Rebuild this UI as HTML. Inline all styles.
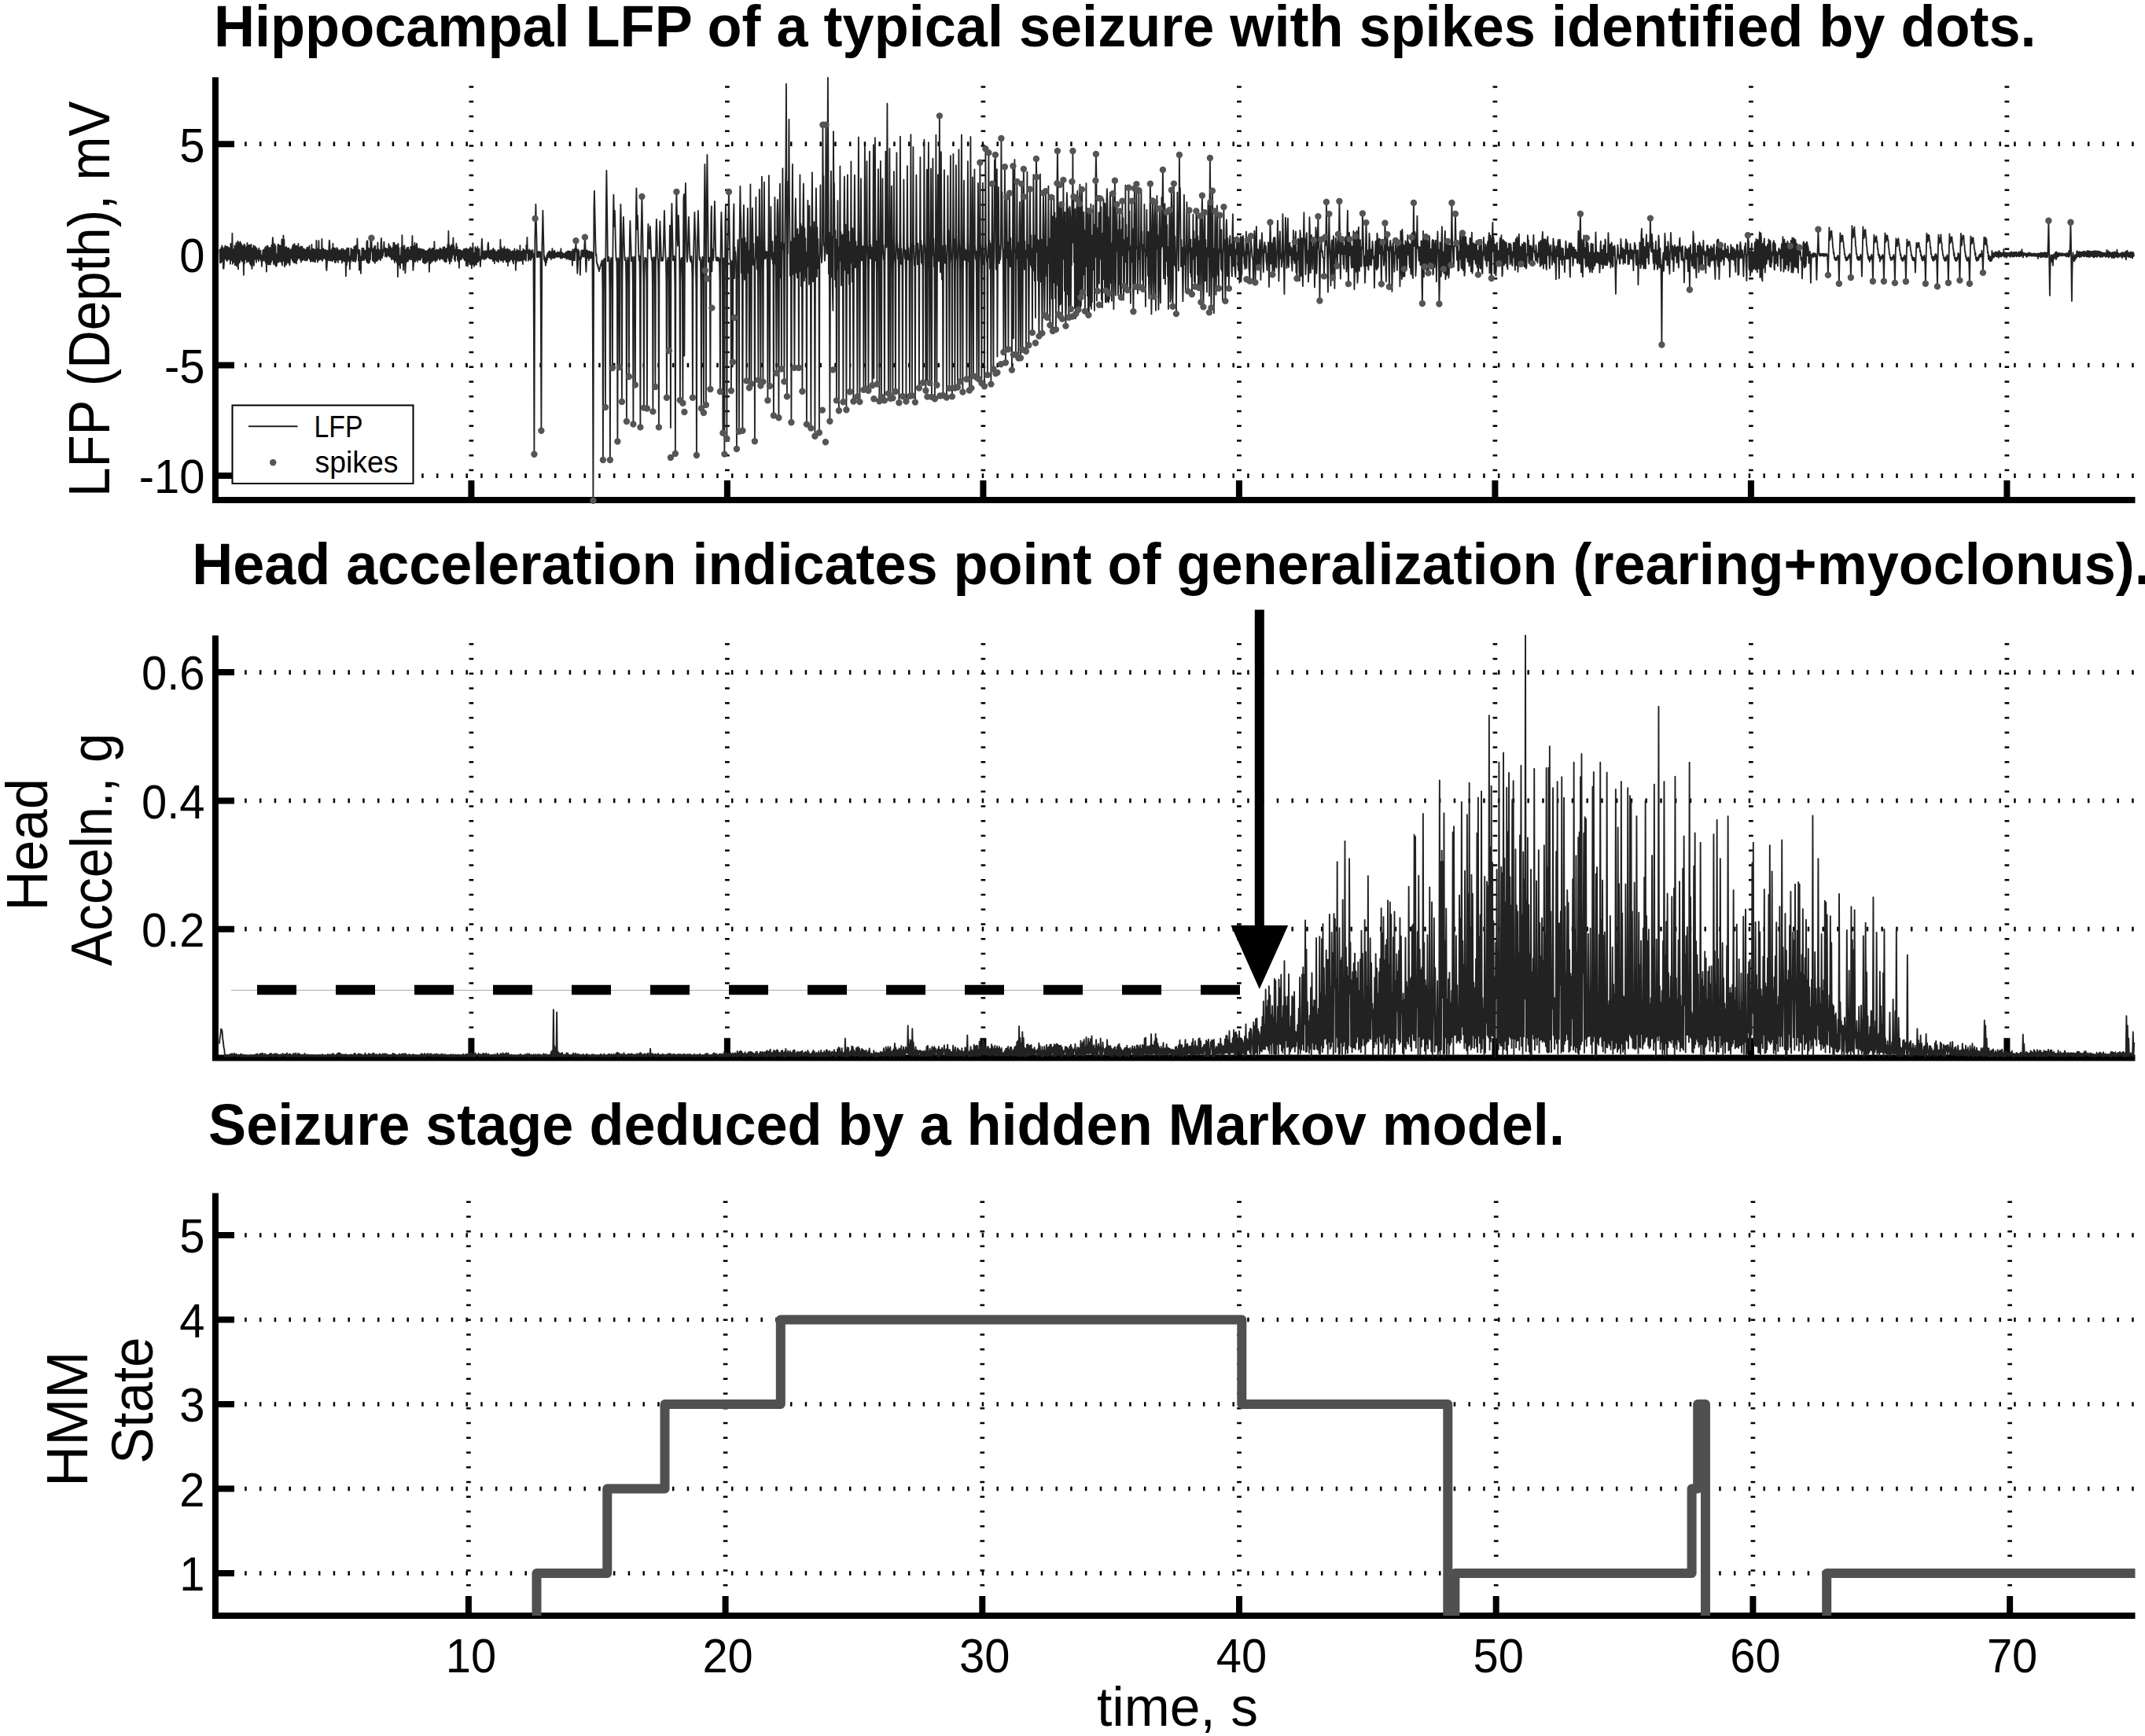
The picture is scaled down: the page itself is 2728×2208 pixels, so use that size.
<!DOCTYPE html>
<html><head><meta charset="utf-8"><title>Seizure figure</title>
<style>
html,body{margin:0;padding:0;background:#fff;}
body{width:2728px;height:2208px;overflow:hidden;font-family:"Liberation Sans",sans-serif;}
svg{display:block}
</style></head><body>
<svg width="2728" height="2208" viewBox="0 0 2728 2208">
<rect width="2728" height="2208" fill="#fff"/>
<g id="grids">
<path d="M311.2 183.2H2715.5" stroke="#000" stroke-width="5.7" stroke-dasharray="2.5 16.25" fill="none"/>
<path d="M311.2 464.5H2715.5" stroke="#000" stroke-width="5.7" stroke-dasharray="2.5 16.25" fill="none"/>
<path d="M311.2 605.1H2715.5" stroke="#000" stroke-width="5.7" stroke-dasharray="2.5 16.25" fill="none"/>
<path d="M599.4 109.2V611.9" stroke="#000" stroke-width="5.7" stroke-dasharray="2.5 16.25" fill="none"/>
<path d="M924.9 109.2V611.9" stroke="#000" stroke-width="5.7" stroke-dasharray="2.5 16.25" fill="none"/>
<path d="M1250.4 109.2V611.9" stroke="#000" stroke-width="5.7" stroke-dasharray="2.5 16.25" fill="none"/>
<path d="M1575.9 109.2V611.9" stroke="#000" stroke-width="5.7" stroke-dasharray="2.5 16.25" fill="none"/>
<path d="M1901.4 109.2V611.9" stroke="#000" stroke-width="5.7" stroke-dasharray="2.5 16.25" fill="none"/>
<path d="M2226.9 109.2V611.9" stroke="#000" stroke-width="5.7" stroke-dasharray="2.5 16.25" fill="none"/>
<path d="M2552.4 109.2V611.9" stroke="#000" stroke-width="5.7" stroke-dasharray="2.5 16.25" fill="none"/>
<path d="M311.2 855.1H2715.5" stroke="#000" stroke-width="5.7" stroke-dasharray="2.5 16.25" fill="none"/>
<path d="M311.2 1018.4H2715.5" stroke="#000" stroke-width="5.7" stroke-dasharray="2.5 16.25" fill="none"/>
<path d="M311.2 1181.7H2715.5" stroke="#000" stroke-width="5.7" stroke-dasharray="2.5 16.25" fill="none"/>
<path d="M599.4 818V1321.4" stroke="#000" stroke-width="5.7" stroke-dasharray="2.5 16.25" fill="none"/>
<path d="M924.9 818V1321.4" stroke="#000" stroke-width="5.7" stroke-dasharray="2.5 16.25" fill="none"/>
<path d="M1250.4 818V1321.4" stroke="#000" stroke-width="5.7" stroke-dasharray="2.5 16.25" fill="none"/>
<path d="M1575.9 818V1321.4" stroke="#000" stroke-width="5.7" stroke-dasharray="2.5 16.25" fill="none"/>
<path d="M1901.4 818V1321.4" stroke="#000" stroke-width="5.7" stroke-dasharray="2.5 16.25" fill="none"/>
<path d="M2226.9 818V1321.4" stroke="#000" stroke-width="5.7" stroke-dasharray="2.5 16.25" fill="none"/>
<path d="M2552.4 818V1321.4" stroke="#000" stroke-width="5.7" stroke-dasharray="2.5 16.25" fill="none"/>
<path d="M311.2 1571H2715.5" stroke="#000" stroke-width="5.7" stroke-dasharray="2.5 16.25" fill="none"/>
<path d="M311.2 1678.5H2715.5" stroke="#000" stroke-width="5.7" stroke-dasharray="2.5 16.25" fill="none"/>
<path d="M311.2 1786H2715.5" stroke="#000" stroke-width="5.7" stroke-dasharray="2.5 16.25" fill="none"/>
<path d="M311.2 1893.5H2715.5" stroke="#000" stroke-width="5.7" stroke-dasharray="2.5 16.25" fill="none"/>
<path d="M311.2 2001H2715.5" stroke="#000" stroke-width="5.7" stroke-dasharray="2.5 16.25" fill="none"/>
<path d="M595.9 1527.5V2031" stroke="#000" stroke-width="5.7" stroke-dasharray="2.5 16.25" fill="none"/>
<path d="M922.6 1527.5V2031" stroke="#000" stroke-width="5.7" stroke-dasharray="2.5 16.25" fill="none"/>
<path d="M1249.3 1527.5V2031" stroke="#000" stroke-width="5.7" stroke-dasharray="2.5 16.25" fill="none"/>
<path d="M1576 1527.5V2031" stroke="#000" stroke-width="5.7" stroke-dasharray="2.5 16.25" fill="none"/>
<path d="M1902.7 1527.5V2031" stroke="#000" stroke-width="5.7" stroke-dasharray="2.5 16.25" fill="none"/>
<path d="M2229.4 1527.5V2031" stroke="#000" stroke-width="5.7" stroke-dasharray="2.5 16.25" fill="none"/>
<path d="M2556.1 1527.5V2031" stroke="#000" stroke-width="5.7" stroke-dasharray="2.5 16.25" fill="none"/>
</g>
<g id="axes">
<path d="M273.9 98.2V639.9M269.9 635.9H2715.5" stroke="#000" stroke-width="8" fill="none"/>
<path d="M273.9 183.2h24.1M273.9 464.5h24.1M273.9 605.1h24.1M599.4 635.9v-24.9M924.9 635.9v-24.9M1250.4 635.9v-24.9M1575.9 635.9v-24.9M1901.4 635.9v-24.9M2226.9 635.9v-24.9M2552.4 635.9v-24.9" stroke="#000" stroke-width="8" fill="none"/>
<path d="M273.9 808.2V1349.4M269.9 1345.4H2715.5" stroke="#000" stroke-width="8" fill="none"/>
<path d="M273.9 855.1h24.1M273.9 1018.4h24.1M273.9 1181.7h24.1M599.4 1345.4v-25.1M924.9 1345.4v-25.1M1250.4 1345.4v-25.1M1575.9 1345.4v-25.1M1901.4 1345.4v-25.1M2226.9 1345.4v-25.1M2552.4 1345.4v-25.1" stroke="#000" stroke-width="8" fill="none"/>
<path d="M273.9 1517.5V2059M269.9 2055H2715.5" stroke="#000" stroke-width="8" fill="none"/>
<path d="M273.9 1571h24.1M273.9 1678.5h24.1M273.9 1786h24.1M273.9 1893.5h24.1M273.9 2001h24.1M595.9 2055v-25M922.6 2055v-25M1249.3 2055v-25M1576 2055v-25M1902.7 2055v-25M2229.4 2055v-25M2556.1 2055v-25" stroke="#000" stroke-width="8" fill="none"/>
</g>
<path id="lfp" d="M279.4 317.0l.5 17.1l.5-16.9l.5 17l.5-19.1l.5 17.2l.5-19.8l.5 20l.5-17l.5 25.5l.5 .8l.5-5.4l.5-21.5l.5 13.9l.5-16.3l.5 16.7l.5-14l.5 15.5l.5-17.1l.5 18.4l.5-18.4l.5 16.4l.5-14.5l.5 14.1l.5-14.3l.5 14.3l.5-13.6l.5 19.7l.5-25.9l.5 21.1l.5-14.5l.5 14.6l.5-34.2l.5 38.9l.5-18.7l.5 16.5l.5-16.1l.5 15.8l.5-20.9l.5 25l.5-22.3l.5 21.3l.5-27.4l.5 29.7l.5-23.1l.5 19.5l.5-28.3l.5 35.6l.5-33.6l.5 25.9l.5-24.6l.5 23.8l.5-26.3l.5 22.7l.5-20.9l.5 21.4l.5-19.3l.5 21.1l.5-19.4l.5 18.8l.5-18.5l.5 36.4l.5-39.1l.5 24.8l.5-23.5l.5 18l.5-14.7l.5 13.8l.5-14.6l.5 19l.5-24.6l.5 22.4l.5-15.7l.5 16.9l.5-20.7l.5 20.8l.5-20.6l.5 23.2l.5-23.1l.5 25l.5-26.2l.5 24l.5 7l.5-5.4l.5-20.9l.5 18.5l.5-21.8l.5 25.4l.5-22.4l.5 14.4l.5-16.6l.5 16.7l.5-14.7l.5 18.7l.5-18l.5 13.8l.5-11.2l.5 9l.5-9.1l.5 13.8l.5-16.5l.5 14.1l.5-9.3l.5 7.2l.5-8.9l.5 12.9l.5-5.5l.5 12.7l.5-14.4l.5 7.1l.5-13.3l.5 13.3l.5-13.3l.5 10.2l.5-11.6l.5 15l.5-17.5l.5 19.7l.5-18.9l.5 30.5l.5-32.7l.5 22.3l.5-22.5l.5 23.3l.5-21.2l.5 21.7l.5-19.9l.5 15.3l.5-16.9l.5 21.4l.5-19.1l.5 16l.5-21.5l.5 19.1l.5-19.6l.5-9.2l.5 8.8l.5 25l.5-20.4l.5 17.1l.5-22.3l.5 26.5l.5-23.6l.5 25.6l.5-13.7l.5 12.7l.5-14.9l.5 9.3l.5-21l.5 22.6l.5-22.9l.5 19.1l.5-16.3l.5 19.1l.5-20.4l.5 18.7l.5-15.1l.5 17.6l.5-29.2l.5 33l.5-24.2l.5 18.9l.5-32.7l.5 31.3l.5-26l.5 34.5l.5-24.5l.5 14.9l.5-15l.5 22.3l.5-22.8l.5 20.4l.5-17.5l.5 14l.5-15l.5 18.1l.5-18.6l.5 17.6l.5 4.2l.5-5.3l.5-14.5l.5 10.8l.5-9.8l.5 10.1l.5-13.3l.5 16l.5-19.6l.5 20.8l.5-20l.5 21.5l.5-24l.5 24l.5-21.5l.5 21l.5-19.3l.5 21.1l.5-22.7l.5 18.5l.5-16l.5 13.5l.5-18.6l.5 18.3l.5-12.7l.5 12.9l.5-13.6l.5 15.3l.5-16.7l.5 19.9l.5-19.1l.5 14.5l.5-15l.5 17.2l.5-14.4l.5 13.6l.5-13.8l.5 11.2l.5-9.8l.5 13.6l.5-14.1l.5 10.2l.5-8.6l.5 12.4l.5-16.4l.5 15.9l.5-15.7l.5 12.9l.5-13.1l.5 13.2l.5-15.5l.5 16.9l.5-10.6l.5 13.7l.5-14.3l.5 13.8l.5-21.1l.5 20.5l.5-15.2l.5 16.2l.5-15.9l.5 13.7l.5-13.3l.5 15.7l.5-15l.5 15.6l.5-15.2l.5 11.4l.5-23.7l.5 22.1l.5-10.2l.5 15.5l.5-16.9l.5 14.9l.5-25l.5 23.5l.5-12l.5 12.6l.5-12.3l.5 10.2l.5-8.2l.5 10.1l.5-26.1l.5 27.9l.5-13l.5 10.6l.5-13.3l.5 11.1l.5-7.8l.5 9.1l.5-10.8l.5 11.8l.5-11.6l.5 22.2l.5 3.8l.5-9.2l.5-16.2l.5 11.2l.5-6.9l.5 8.4l.5-17.7l.5-7.9l.5 5.9l.5 19.9l.5-13.6l.5 13l.5-11.9l.5 12.4l.5-15.4l.5 16.2l.5-22.4l.5 20.2l.5-11.5l.5 11.6l.5-14.7l.5 18.4l.5-17.3l.5 17.2l.5-13.9l.5 11.1l.5-15.7l.5 15.7l.5-14.4l.5 17.1l.5-13l.5 9.4l.5-11.7l.5 11.7l.5-11.5l.5 12l.5-11.3l.5 9.7l.5-12.5l.5 17.7l.5-14.6l.5 12.7l.5-15.7l.5 12l.5-9.8l.5 13.6l.5-13.4l.5 11.3l.5-12.1l.5 33.1l.5-33.4l.5 19.8l.5-22.2l.5 17.6l.5-15.4l.5 11.7l.5-13.6l.5 16.2l.5-5.9l.5 16.5l.5-16.5l.5 7.1l.5-17.3l.5 14.8l.5-13.5l.5 11.4l.5-10.9l.5 14.5l.5-13.7l.5 13.6l.5-18.1l.5 16l.5-16.2l.5 19.4l.5-20.8l.5 18.5l.5-17.5l.5 8.7l.5-18.5l.5 15.9l.5-2.1l.5 14.4l.5-13.9l.5 25.7l.5-25.2l.5 13.8l.5-6l.5 21.7l.5-20.4l.5 3.9l.5-15.5l.5 15.2l.5-14.9l.5 13.4l.5-13.7l.5 15.2l.5-12.6l.5 10.3l.5-9.3l.5 9.4l.5-10l.5 12.6l.5-24l.5 26.2l.5-27.4l.5 28.1l.5-19l.5 19.4l.5-16.4l.5 15.4l.5-18.1l.5 14.6l.5-26.3l.5 15.7l.5-16.8l.5 15.1l.5-1.6l.5 14.8l.5-12.7l.5 14.2l.5-17.2l.5 15.1l.5-17.5l.5 21.7l.5-21.8l.5 19l.5-14l.5 14.1l.5-14.4l.5 14.1l.5-23.2l.5 21l.5-12.9l.5 13l.5-10l.5 6.5l.5-7.6l.5 12.5l.5-19.2l.5-8.8l.5 9.9l.5 15.4l.5-10.5l.5 7.7l.5-8l.5 2.1l.5-12l.5 10.7l.5 .1l.5 7.9l.5-10.7l.5 9.5l.5-8.7l.5 10.4l.5-10.1l.5 8.3l.5-6.2l.5 5.5l.5-14.1l.5 15.4l.5-9l.5 10.2l.5-13.7l.5 13.6l.5-10.7l.5 14l.5-12.8l.5 12.4l.5-14.9l.5 13l.5-19.1l.5 21.9l.5-21.9l.5 25.5l.5-22.7l.5 19.3l.5-16.2l.5 17.2l.5-19.9l.5 22.7l.5-22.6l.5 40.1l.5-42.2l.5 21.6l.5-16.2l.5 22.2l.5-12l.5 15.8l.5-15.9l.5 5.3l.5-16.1l.5 19.9l.5-35.3l.5 30.5l.5-16.5l.5 30.5l.5-26.7l.5 13.8l.5-18.5l.5 23.6l.5 11.5l.5-10.6l.5-19.1l.5 15.8l.5-18.1l.5 16.2l.5-16.4l.5 17.3l.5-17.8l.5 14.7l.5-11.4l.5 12.1l.5-11.6l.5 9.5l.5-14.1l.5 16.6l.5-16.7l.5 6.6l.5-20.3l.5 28.2l.5 15.5l.5-6.7l.5-23.7l.5 18.8l.5-23.2l.5 24.1l.5-16l.5 14l.5-18.6l.5-2.6l.5 3.6l.5 19.4l.5-16.5l.5 12.4l.5-11l.5 12.7l.5-14.5l.5 14.5l.5-10.5l.5 10.6l.5-13.8l.5 10.8l.5-8.9l.5 8.5l.5-10.1l.5 16.3l.5-14.9l.5 15.8l.5-16.4l.5 16.9l.5-14.5l.5 14.8l.5-15.9l.5 12.8l.5-12l.5 13.7l.5-14.3l.5 12.1l.5-13.4l.5 13.3l.5-13.9l.5 28.3l.5-30.1l.5 19.6l.5-17.7l.5 16.6l.5-16l.5 12.8l.5-14.8l.5 16.4l.5-16.5l.5 15.2l.5-11.2l.5 9.3l.5-22l.5 24l.5-12.5l.5 13.9l.5-13.9l.5 9.2l.5-10.6l.5 13.5l.5-11.5l.5 8.5l.5-10.2l.5 10.3l.5-8.7l.5 10.9l.5-14.5l.5 13.8l.5-13.2l.5 12.3l.5-11.1l.5 10.8l.5-10.6l.5 11.9l.5-14.7l.5 14.4l.5-14.9l.5 17.2l.5-17.4l.5 18.7l.5-16l.5 16.3l.5-16.7l.5 16l.5-16.9l.5 11.2l.5-15.8l.5 16.9l.5-34l.5 37.7l.5-20.2l.5 24l.5-20.8l.5 17.5l.5-18.5l.5 19l.5-21.4l.5 17.1l.5-12.2l.5 4.7l.5-18.3l.5 21.5l.5-11.1l.5 17.4l.5-12.8l.5 14.6l.5-14.8l.5 5.7l.5-13.3l.5 15.3l.5-10.9l.5 16.7l.5-12.2l.5 14.1l.5-14.9l.5 22.9l.5-23l.5 12.8l.5-12.3l.5 11.9l.5-11.1l.5 10.6l.5-10.2l.5 8.2l.5-7.1l.5 6.7l.5-9.7l.5 11.9l.5-12.8l.5 14.7l.5-12.6l.5 10l.5-12.5l.5 21.8l.5-21.9l.5 13.1l.5-11.7l.5 20.9l.5-20.4l.5 15.6l.5-16.6l.5 16.6l.5-16.9l.5 17.6l.5-20l.5 22.2l.5-19.5l.5 24.2l.5-25.4l.5 16.6l.5-23.2l.5 25.1l.5-8.6l.5 13.1l.5-17l.5 14.9l.5-22.6l.5 21.3l.5-19.4l.5 20.8l.5-19.7l.5 15.8l.5-19.2l.5 19.6l.5-14.2l.5 11.5l.5-14.2l.5 14.9l.5-4.6l.5 12.2l.5-11.2l.5 2.7l.5-16.2l.5-10.5l.5 10.7l.5 14.6l.5-8.1l.5 7.9l.5-9.3l.5 10.6l.5-9l.5 5.9l.5-7.9l.5 9.9l.5-9.7l.5 8.5l.5-7.5l.5 6.7l.5-14.8l.5-3.7l.5 6.9l.5 12.7l.5-6.5l.5 7l.5-9.4l.5 10l.5-10.9l.5 9.6l.5-7.4l.5 8.8l.5-11.9l.5 14.5l.5-15.9l.5 15l.5-12.9l.5 16.9l.5-16.9l.5 11.4l.5-9.2l.5 10.2l.5-10.4l.5 12.2l.5-11.7l.5 8.2l.5-10.9l.5 15.5l.5-15l.5 11.9l.5-10.9l.5 9.6l.5-24.2l.5 26.8l.5-17.3l.5 16.8l.5-14.7l.5 12.5l.5-11.6l.5 16l.5-16.8l.5 14.1l.5-16.9l.5 15.8l.5-9.5l.5 10.7l.5-13.6l.5 16.1l.5-15.1l.5 13.8l.5-15.6l.5 21.7l.5-18.9l.5 13.6l.5-15.2l.5 15.1l.5-14.3l.5 12.5l.5-10.9l.5 10l.5-8.8l.5 8.3l.5-9.9l.5 12.7l.5-11.8l.5 14.8l.5-16.2l.5 11.2l.5-13.7l.5 13.1l.5-9.5l.5 23.6l.5-23.8l.5 14.1l.5-16.7l.5 14.1l.5-12.9l.5 10.8l.5-10.3l.5 12.9l.5-12.5l.5 12.4l.5-19.6l.5 19.3l.5-11.2l.5 10.6l.5-11.2l.5 11.8l.5-11.9l.5 16.3l.5-19.1l.5 13.5l.5-12.3l.5 11.3l.5-10.7l.5 11.5l.5-10.3l.5 11.9l.5-20l.5 10.1l.5-19.8l.5 17.5l.5-1.2l.5 13.3l.5-12.8l.5 10l.5-11.5l.5 12.2l.5-8.8l.5 10.3l.5-12.2l.5 10.2l.5-6.7l.5 4.6l.5-9l.5 8.3l.5-3.8l.5 98.4l.5 157l.5-157.7l.5-118.6l.5-19.2l.5-22.5l.5 22.1l.5 19.4l.5 25.6l.5-5.9l.5 6.3l.5-6.8l.5 5.6l.5-6.2l.5 6.9l.5-6.1l.5 5.3l.5-5.5l.5 89.5l.5 137.8l.5-138.2l.5-97.4l.5-20.3l.5-24.1l.5 24.1l.5 20.9l.5 17.1l.5-4.2l.5 6.8l.5-4.4l.5 9.7l.5-9.3l.5 5.7l.5-9.5l.5 6.1l.5-8.6l.5 5.3l.5-6.3l.5 4.6l.5-6.4l.5 8.4l.5-8.2l.5 6.4l.5-4.3l.5 8.2l.5-9.6l.5 6.6l.5-10.8l.5 12.2l.5-7.7l.5 6l.5-7l.5 8.8l.5-9.6l.5 8.4l.5-5.6l.5 5.1l.5-5l.5 5l.5-4.9l.5 4.9l.5-6.2l.5 6.3l.5-5.6l.5 5.1l.5-4l.5 4.4l.5-6.8l.5 8.6l.5-12.2l.5 11.1l.5-4.5l.5 5.4l.5-6.8l.5 5.9l.5-4.8l.5 4.5l.5-4.3l.5 4.3l.5-4.1l.5 5.2l.5-7.1l.5 6l.5-6.6l.5 9.1l.5-8.9l.5 5.9l.5-7.5l.5 9.6l.5-8.7l.5 10.2l.5-10.6l.5 8.2l.5-7l.5 9.5l.5-10.4l.5 10l.5-9.4l.5 17.1l.5-20.3l.5 12.2l.5-9.3l.5 10.9l.5-13.8l.5 13.8l.5-15.7l.5 4.1l.5-13.2l.5 13.7l.5-3.5l.5 20.2l.5 11.1l.5-10.1l.5-20.3l.5 9.8l.5-7.9l.5 10.7l.5-1.9l.5 21.7l.5-22.7l.5 2.4l.5-11l.5 8.4l.5-7.8l.5 7.2l.5-8.1l.5 7.7l.5-7.5l.5 8.3l.5-15.1l.5-9.8l.5 8.9l.5 24.7l.5 10.4l.5-11.4l.5-16.2l.5 10.2l.5-9l.5 7.7l.5-6.5l.5 10.5l.5-11.6l.5 7.8l.5-7l.5 8.3l.5-7.3l.5 6.8l.5-7.9l.5 6.9l.5-5.7l.5 127.3l.5 188.1l.5-224.4l.5-147.2l.5-22.4l.5 22.4l.5 23.2l.5 21.3l.5 15.5l.5-1.8l.5 11l.5 0l.5 3.5l.5-1l.5 4.7l.5-.7l.5 4.3l.5-3.5l.5 .4l.5-3.6l.5-.1l.5-3.2l.5-.1l.5-3.6l.5-.2l.5 39.7l.5 214l.5-212.8l.5-41.2l.5-2.1l.5 2.3l.5 29.3l.5 157.5l.5-194.7l.5-68.2l.5-38.1l.5 38.4l.5 36.2l.5 40.7l.5-4.1l.5 3.7l.5-5l.5 4.8l.5 39.5l.5 213.8l.5-213.7l.5-40.3l.5-3.1l.5 4.4l.5 19.1l.5 116.6l.5-144.2l.5-48.1l.5-28.1l.5 27.7l.5 12.7l.5-20l.5 20.1l.5 23l.5 16.1l.5 4.6l.5-3.6l.5 43.3l.5 190l.5-191.1l.5-42l.5 3.7l.5 18.8l.5 116.1l.5-138.9l.5-43.1l.5-25l.5 24.1l.5 51.6l.5 175.3l.5-153l.5-44.2l.5-20.7l.5-17.1l.5 17l.5 19.8l.5 14.4l.5 4.2l.5-3.8l.5 4l.5 30.5l.5 173.9l.5-174l.5-30.2l.5-4.3l.5 4.2l.5 21.5l.5 125.8l.5-142.2l.5-38.8l.5-17l.5 18l.5 12.6l.5 20.4l.5-4.2l.5 4.1l.5-4.8l.5 38.8l.5 173.6l.5-172.2l.5-40.8l.5 6.3l.5 21.8l.5 134.9l.5-164.2l.5-54.2l.5-31.6l.5 31.7l.5 20.5l.5-17.7l.5 18l.5 21.7l.5 13.5l.5 4.7l.5-6.4l.5 42.1l.5 175.8l.5-177l.5-64.5l.5-24.6l.5-27.3l.5 27.3l.5 25.1l.5 28.9l.5 28.3l.5 159l.5-158.3l.5-25.5l.5-7.2l.5 3.8l.5-3.1l.5 2.6l.5 29.7l.5 158.9l.5-175.2l.5-43.7l.5-15.6l.5 15.4l.5 12.7l.5 3.5l.5-15.3l.5-13.3l.5 13.1l.5 15.3l.5 11.1l.5 3.9l.5-3.6l.5 35.9l.5 159.7l.5-160l.5-36.1l.5 3.5l.5-3.5l.5 30.4l.5 134.3l.5-150.8l.5-45.9l.5-16.3l.5 16l.5 18.8l.5 14.1l.5 4.3l.5 30.6l.5 180.6l.5-195.3l.5-49l.5-17.6l.5 16.8l.5 13.8l.5 19.6l.5-4.2l.5 4l.5-3.5l.5 3.7l.5-4.5l.5-16l.5-23.2l.5-20l.5 20l.5 22l.5 15.1l.5 6.6l.5 25.2l.5 148.8l.5-148.1l.5-24.8l.5-5.1l.5 3.8l.5 16l.5 98.5l.5-119.7l.5-39.7l.5 20.4l.5 237.1l.5-195.8l.5-65.3l.5-24l.5 24l.5 22l.5 26.1l.5-3.2l.5 3.3l.5-5.6l.5 7.2l.5 36l.5 208.2l.5-236l.5-67.5l.5-29.5l.5 29.2l.5 26.8l.5 12.7l.5-20.5l.5-18.2l.5 18.2l.5 20.4l.5 45.7l.5 150.7l.5-150.5l.5-26.8l.5-3.6l.5 3.1l.5-3.3l.5 33.7l.5 151.2l.5-190.3l.5-70.9l.5-4.5l.5 205.5l.5-126.9l.5-61.1l.5-31.6l.5 31.4l.5 34.1l.5 28.4l.5 6.1l.5-5.6l.5-13.5l.5-20.6l.5-17.3l.5 16.8l.5 20.5l.5 14l.5 4.3l.5-4.2l.5 5.9l.5-7.4l.5 6.3l.5 20.3l.5 153.2l.5-148.3l.5-25l.5-24.5l.5-17l.5-20.9l.5 21l.5 14.1l.5 33.1l.5 30.8l.5 210l.5-211.5l.5-56.7l.5-22.9l.5-19.9l.5 19.7l.5 23l.5 17.3l.5 3.1l.5-3.6l.5 3.4l.5 28.5l.5 160.1l.5-159.6l.5-27.8l.5-5.4l.5 5.6l.5 28l.5 164.7l.5-204.8l.5-69.9l.5-41.3l.5 41.2l.5 68.5l.5 196.3l.5-200.7l.5-72.5l.5-44.8l.5 45.2l.5 41.4l.5 49.4l.5-5.4l.5 5l.5-5l.5 31.5l.5 135.9l.5-162.1l.5-58.1l.5-12.5l.5 82.8l.5-28.5l.5 11l.5 3.7l.5-3.9l.5-21l.5-26.2l.5-24.2l.5 23.8l.5 27l.5 20.9l.5 3.3l.5-2.9l.5 3.6l.5-4.3l.5 4.4l.5-4.4l.5 4.5l.5-3.6l.5 2.7l.5 25l.5 142l.5-161.1l.5-46.4l.5-20.5l.5 20.2l.5 18.7l.5 58.5l.5 183.4l.5-183.5l.5-38.8l.5 43.8l.5 205.3l.5-228.6l.5-65.3l.5-22.7l.5 22.1l.5 62.4l.5 212.5l.5-189.6l.5-39.5l.5-27l.5-29.7l.5-28.2l.5 27.9l.5 30.1l.5 26.7l.5 2.9l.5 24.7l.5 140.7l.5-141l.5-24l.5 18.4l.5 110.1l.5-137.8l.5-48.3l.5-15l.5 94.7l.5-39.7l.5 10.4l.5-4.4l.5 8.7l.5 29l.5 212.9l.5-213.9l.5-16.3l.5-35.7l.5 39.2l.5 9.2l.5 195.2l.5-232.6l.5-42.8l.5-36.3l.5 34.1l.5 9.5l.5 66.6l.5-44l.5 64.2l.5 180.3l.5-189.3l.5-68.3l.5-29.2l.5 36.7l.5 58.2l.5-53l.5 37.2l.5-31.6l.5 58.1l.5 117.9l.5-129.8l.5-59.3l.5-30.3l.5 34.3l.5 47.9l.5-28.4l.5 174.4l.5-169.9l.5-1.3l.5-87.6l.5 97.4l.5 156.5l.5-136l.5-52.2l.5-35.5l.5 30.9l.5 41.2l.5-26.9l.5 28l.5-3.8l.5 227.2l.5-225.8l.5-10.2l.5-74.2l.5 70l.5-14.7l.5 36.1l.5-41.2l.5 45.8l.5 136.4l.5-136l.5-49l.5-57.5l.5 59.9l.5 59.6l.5 130.1l.5-143.5l.5-45.6l.5-76.7l.5 77.8l.5 40.7l.5 142.4l.5-143.5l.5-38l.5-72.3l.5 72.8l.5 24.7l.5-9.8l.5 8.5l.5-7.9l.5 7.3l.5-7.1l.5 24.6l.5 164.4l.5-165.3l.5-42l.5-78.7l.5 92.3l.5 175.4l.5-159.3l.5-6l.5-62.8l.5 55.2l.5-.8l.5 12.5l.5-22.6l.5 28.1l.5-13.6l.5 206.8l.5-199.1l.5 1.9l.5-80.4l.5 84.6l.5-35.7l.5 67.9l.5 106.9l.5-92.2l.5-106.9l.5-21.5l.5 19.5l.5 101.1l.5 156.7l.5-156.8l.5-87.7l.5-53.1l.5 43.7l.5 76.2l.5-35.7l.5 151.3l.5-160.8l.5 8.7l.5-102.9l.5 102.6l.5-7.2l.5 41.7l.5 134.1l.5-118.1l.5-76.5l.5-53.4l.5-24.2l.5-106.4l.5 125.8l.5 271.6l.5-182l.5 .5l.5-92.1l.5 27.1l.5-105.9l.5 102.1l.5 47.1l.5 49.7l.5-43.4l.5 48.8l.5 181.2l.5-169.1l.5-87l.5-72.4l.5 76.7l.5 63.4l.5-46.2l.5 62.7l.5 102.5l.5-105.9l.5-79.5l.5-30.1l.5 31.3l.5 63.4l.5-48.6l.5 54.8l.5-62.2l.5 57l.5-48.3l.5 168l.5-169.8l.5 47.5l.5-123l.5 119.4l.5-57.4l.5 79.5l.5-76.2l.5 70.9l.5 139l.5-129.8l.5-99.4l.5-34.8l.5 52.1l.5 71.5l.5-66.9l.5 54.1l.5-41.7l.5 50.2l.5-32.2l.5 218.8l.5-211.7l.5 .6l.5-73.6l.5 84.3l.5-49.8l.5 72.3l.5-100l.5 92.9l.5-66.2l.5 79.9l.5 176.3l.5-178.5l.5-89.5l.5-57.3l.5 66.7l.5 72.2l.5-67.1l.5 66.3l.5-75.2l.5 95.2l.5 177.3l.5-184.5l.5-86.8l.5-44l.5 44.3l.5 68.2l.5-62.6l.5 51.8l.5-37.1l.5 32.7l.5-5.7l.5 219.3l.5-219.7l.5-9.6l.5-85.5l.5 81.4l.5-2.4l.5 19.6l.5-4.6l.5-22.3l.5-148.4l.5 86.6l.5-21.4l.5 88.1l.5-3.1l.5 22.7l.5-8.6l.5-2.3l.5-162l.5 93l.5 1.4l.5 69.9l.5-112.5l.5-111.8l.5 108.7l.5 140.8l.5-52.7l.5 75.9l.5 164.2l.5-172.4l.5-79.2l.5-66.5l.5 67.1l.5 67.9l.5-52.2l.5 72.5l.5 22l.5-227.8l.5 68.3l.5-2.5l.5 42.2l.5 80.5l.5-62.5l.5 71.7l.5-60.1l.5 204.7l.5-194.7l.5 27.9l.5-87.5l.5 86.6l.5-27.3l.5 207.9l.5-203.2l.5 12.8l.5-120.4l.5 119.2l.5-35.7l.5 68l.5-63.1l.5 55.4l.5-56.9l.5 61l.5 151.9l.5-155.9l.5-80.9l.5-49.7l.5 64.2l.5 54.5l.5-57.9l.5 78.2l.5 157.5l.5-151.9l.5-84.9l.5-62l.5 57.5l.5 68l.5-53.7l.5 67.4l.5-54.1l.5 190.6l.5-188.3l.5 14.8l.5-119.2l.5 128.8l.5-34.8l.5 58.7l.5-67.8l.5 90.2l.5 129.9l.5-147.3l.5-78.9l.5-61.5l.5 70.6l.5 46.9l.5-33.2l.5 27l.5-21l.5 51l.5 140.3l.5-161.1l.5-54l.5-114.9l.5 117l.5 55.9l.5 163.8l.5-165.6l.5-53.8l.5-64.4l.5 70.5l.5 33.5l.5-15.5l.5 11.4l.5-14l.5 31.8l.5 150.9l.5-153.5l.5-51.5l.5-104.4l.5 118.9l.5 188.8l.5-164l.5-19.5l.5-105.6l.5 106l.5 3.6l.5 27.7l.5 154.4l.5-143.3l.5-61.1l.5-99.7l.5 99.9l.5 36.2l.5-17.1l.5 16.2l.5-13.1l.5 27.9l.5 147.5l.5-142.2l.5-62l.5-101.8l.5 296.9l.5-130.8l.5-61.8l.5-113.2l.5 111.2l.5 44.9l.5-25l.5 38.6l.5 143.6l.5-138.7l.5-58.5l.5-76.1l.5 82.7l.5 48l.5 164.2l.5-159.5l.5-57.1l.5-88.6l.5 104.4l.5 195.4l.5-175.2l.5-8.9l.5-93.4l.5 85.4l.5-1.3l.5 18.8l.5 .9l.5 178.3l.5-179.7l.5-21.6l.5-115.4l.5 114.7l.5 7.1l.5-73.3l.5-109.4l.5 110l.5 90.6l.5 168l.5-167.5l.5-28.7l.5-115.2l.5 132.6l.5 185.1l.5-162.6l.5-39.4l.5-68.1l.5 68l.5 43.2l.5 158.4l.5-156.5l.5-50.6l.5-80.9l.5 81.7l.5 30.4l.5 4.1l.5 163.6l.5-164.8l.5-25.5l.5-113.6l.5 112.9l.5 5.5l.5 16.6l.5-12.8l.5 32.2l.5 163.8l.5-166.4l.5-52.2l.5-120.1l.5 120l.5 42.2l.5-19.6l.5 16.6l.5-.6l.5 171.8l.5-169.1l.5-20.4l.5-86.1l.5 85.3l.5 7.2l.5 8.1l.5-10.7l.5 30.9l.5 161.4l.5-161.1l.5-47.1l.5-91.3l.5 89.9l.5 28.9l.5-14.4l.5 15.2l.5 1.6l.5 171.6l.5-169.4l.5-26.1l.5-137.2l.5 135.7l.5 25.8l.5 170.6l.5-166.5l.5-27.7l.5-122.2l.5 124.3l.5 .6l.5 25.8l.5-8.5l.5 182.5l.5-180.7l.5-14.2l.5-94l.5 92.1l.5 .2l.5 21.3l.5-26.8l.5 25.4l.5-16.2l.5 174.8l.5-164.4l.5-19.8l.5-109.3l.5 111.3l.5-5.3l.5 28.2l.5-22.4l.5 24.5l.5-8.7l.5 159.1l.5-163.6l.5-15.7l.5-129.7l.5 131.4l.5 7.2l.5 32.2l.5 148.3l.5-149.2l.5-51.3l.5-80.6l.5 268.2l.5-135.6l.5-54.9l.5-112.3l.5 113.2l.5 51.7l.5 141.1l.5-132.6l.5-54.3l.5-85.8l.5 95l.5 195.5l.5-177l.5-4.4l.5-121.8l.5 114.1l.5-12.3l.5 35.7l.5-8.6l.5 176.6l.5-177.3l.5-23.9l.5-134.3l.5 152.4l.5 165.7l.5-142.8l.5-50l.5-74.5l.5 75.1l.5 34.5l.5-90.5l.5-94.2l.5 162.2l.5 36.6l.5-52.7l.5-100.2l.5 96.4l.5 65.8l.5-42.7l.5 38l.5 152.2l.5-156.5l.5-49.8l.5-80.4l.5 83.5l.5 34.7l.5-22.8l.5 23.5l.5-2.9l.5 173.2l.5-178l.5-16l.5-87.9l.5 93l.5-24l.5 60.3l.5 141l.5-150.5l.5-49l.5-96.3l.5 99.8l.5 30.3l.5 6.8l.5 169.4l.5-172.2l.5-20.7l.5-115.6l.5 114.1l.5-6l.5 41.4l.5 148.2l.5-147.9l.5-49.1l.5-86.3l.5 89.3l.5 27.8l.5 5.4l.5 159.7l.5-161l.5-27.7l.5-113.7l.5 114.4l.5 13.6l.5 25.8l.5 141.4l.5-139.1l.5-58.2l.5-116.5l.5 121.7l.5 52.3l.5 153.1l.5-154.8l.5-41.3l.5-72.9l.5 71.3l.5 29.6l.5-13.6l.5 14.1l.5-12.6l.5 28.1l.5 135.8l.5-139.2l.5-45.4l.5-92.5l.5 88.8l.5 38l.5 2.3l.5 162.2l.5-163.4l.5-25.7l.5-133.4l.5 146l.5 173.6l.5-147.5l.5-43.7l.5-77l.5 91.6l.5 161.1l.5-145.2l.5-18.9l.5-98.5l.5 96.5l.5 6.7l.5 10.7l.5-9.7l.5 29l.5 131.5l.5-135.5l.5-43.5l.5-68.2l.5 85.6l.5 163.7l.5-147.8l.5-25.3l.5-102.5l.5 102l.5 8.5l.5 32.9l.5 137.1l.5-135.8l.5-47.5l.5-71.1l.5 70.7l.5 29.9l.5-2.4l.5 160.3l.5-158.2l.5-16.5l.5-127.3l.5 121l.5 3.9l.5 19.1l.5-2.5l.5 146.1l.5-145.8l.5-17.9l.5-118.9l.5 133l.5-21.4l.5 35.6l.5-31.8l.5 48.8l.5 130.1l.5-136.1l.5-50.8l.5-67.9l.5 65.9l.5 44.3l.5 125.2l.5-121.2l.5-57.8l.5-86.7l.5 55.9l.5-62.4l.5 124.5l.5 21.3l.5-49l.5-78.7l.5 238.4l.5-110.8l.5-41.7l.5-63.1l.5 64.3l.5 32.9l.5-22.5l.5 17.8l.5-3.9l.5-18.6l.5-131.9l.5 88.3l.5-19.8l.5 71.3l.5 1.7l.5 27.2l.5 103.3l.5-108.1l.5-43l.5-84.7l.5 98.1l.5 151l.5-137.4l.5-3.6l.5-69.5l.5 77.3l.5-20.6l.5 33.9l.5 102.9l.5-102.2l.5-47.1l.5-49.4l.5 53.8l.5 39.8l.5-36.3l.5 36.1l.5-15.5l.5 147.1l.5-148.1l.5-9.8l.5-101.5l.5 219.2l.5-113.5l.5-1.9l.5-112.1l.5 111.9l.5 8.5l.5 127.9l.5-127.3l.5 1.9l.5-94.9l.5 97.9l.5-20.4l.5 40.6l.5 106.6l.5-83.7l.5-83l.5-32l.5 44.9l.5 153.5l.5-134l.5 5.9l.5-93.2l.5 112.5l.5 98.3l.5-96.7l.5-85.1l.5-48l.5 48.6l.5 78.9l.5-35.5l.5 36.3l.5-24.1l.5 127.5l.5-128.5l.5 4.6l.5-104.2l.5 109.1l.5-16.6l.5 35.7l.5 92.2l.5-85.4l.5-63.3l.5-49.7l.5 49.3l.5 47.1l.5-37.7l.5 41l.5-24.4l.5 107.2l.5-106.7l.5 9.9l.5-104l.5 121.9l.5-45l.5 58l.5-50.7l.5 97.6l.5-145.8l.5-56.3l.5 23.2l.5 95.6l.5-16.3l.5 52.3l.5-51l.5 59.4l.5 62.4l.5-69.8l.5-68.6l.5-67.7l.5 68.9l.5 68.2l.5-54.2l.5 53.4l.5 66.1l.5-62.2l.5-70.7l.5-45.6l.5 41.1l.5 75.5l.5 39.3l.5-43.5l.5-60.5l.5-54.2l.5 39.2l.5 68.6l.5-37l.5 89.9l.5-85.6l.5 14.8l.5-96.4l.5 98l.5-31.3l.5 79.8l.5 30.5l.5-57.1l.5-78.6l.5-27l.5 39.9l.5 89.1l.5-104.8l.5 145.9l.5-123.1l.5 50.2l.5-98.8l.5 110.3l.5-89.1l.5 108.9l.5-97.3l.5 137l.5-141.8l.5 85.4l.5-129.6l.5-41.1l.5 38.1l.5 145.4l.5 24.5l.5-20.3l.5-119.2l.5-3l.5 129.9l.5-1.4l.5-114.9l.5-11l.5 24.6l.5 120.9l.5-94.2l.5 12.5l.5-95l.5 100.5l.5-58.4l.5 98.9l.5-100l.5 112.3l.5 32.4l.5-25.7l.5-120.3l.5-23.5l.5 15.5l.5 114l.5-109.3l.5 124.6l.5 13.9l.5-17.7l.5-123.4l.5 4.7l.5 10.4l.5 115.2l.5-96.2l.5 40.6l.5-90.3l.5 46.2l.5-101.3l.5 116.8l.5-58.5l.5 83.2l.5-66.7l.5 125.3l.5-126.1l.5 139.1l.5-6l.5-1.6l.5-133.9l.5-10l.5-10.8l.5 156.7l.5-5.5l.5-2.2l.5-138.8l.5 6.3l.5-24.5l.5 159.1l.5-15.7l.5 10.6l.5-135.8l.5-12.1l.5 25.5l.5 105.5l.5-79l.5 56.6l.5-79.8l.5 78.2l.5-47.3l.5 95.1l.5-102.9l.5 46.1l.5-105.7l.5 98.8l.5-62.6l.5 106.8l.5-110.9l.5 132l.5 3.5l.5-1.5l.5-133.2l.5 2.3l.5 5l.5 115.9l.5-129.6l.5 133.1l.5-87.2l.5 78.7l.5-85.2l.5 44.2l.5-82.2l.5 69.7l.5-27.2l.5 91.5l.5-109.6l.5 41.4l.5-97.2l.5-33.7l.5 26.9l.5 159.7l.5-92.6l.5 80.3l.5-70.9l.5 34.2l.5-63.3l.5 90.5l.5-65.5l.5 34.1l.5-76.8l.5 73.7l.5-62.7l.5 118l.5-84.8l.5 94.1l.5-91.4l.5 31.4l.5-77.3l.5 101.7l.5-97l.5 111l.5-110l.5 124.7l.5-14.3l.5 14.9l.5-129.4l.5-15l.5 15.6l.5 127.5l.5-107.1l.5 108.3l.5-11.2l.5 7.3l.5-114.1l.5-21.7l.5 19.3l.5 95.8l.5-46.7l.5 69.5l.5-73.4l.5 13.8l.5-76.8l.5 96.9l.5 50l.5-33.3l.5-97l.5-33.2l.5 59.6l.5 86.3l.5-55.8l.5-.4l.5-59.4l.5 58.9l.5-26.8l.5 83.3l.5-11.9l.5-1.7l.5-81l.5-12.3l.5 13.9l.5 93.2l.5-72.3l.5 74.9l.5-86.6l.5 33.4l.5-69.4l.5 61.5l.5-39.8l.5 104.2l.5-74.5l.5 56.6l.5-58.6l.5 28.6l.5-97.9l.5 86l.5-36l.5 78.8l.5-62.4l.5 66.9l.5-48.5l.5-2.8l.5-79l.5 70.8l.5-41.1l.5 98.5l.5-52.5l.5 71.4l.5-72.6l.5 17.7l.5-75.1l.5 77.7l.5-42.6l.5 73.3l.5 32.1l.5-37.7l.5-84.6l.5-34.3l.5 45.1l.5 79.9l.5-56.5l.5 7.9l.5-82l.5 78.9l.5 1.8l.5 58.5l.5-51.6l.5-8.9l.5-70.5l.5 87.6l.5-13.8l.5 49.1l.5-41.3l.5-20.3l.5-60.1l.5 61.2l.5-10.3l.5 61.8l.5-31.5l.5 43.1l.5-56.7l.5 4.6l.5-55.8l.5 55.9l.5 5.9l.5 68.2l.5-67.1l.5-5.5l.5-50.3l.5 58.5l.5-27.1l.5 52.4l.5-55.8l.5 60.7l.5 24.1l.5-20l.5-86.7l.5-39.4l.5 43l.5 90.2l.5 32.6l.5-39.9l.5-73.9l.5-30.2l.5 21.7l.5 81.7l.5 18.5l.5-22.1l.5-80.9l.5-17.3l.5 41l.5 96.7l.5-76.8l.5-3.2l.5-65.9l.5 61.2l.5-11.3l.5 66.4l.5 28.5l.5-25.5l.5-81.6l.5-21.2l.5 42.2l.5 77.7l.5-70.8l.5 1.6l.5-64.8l.5 62.2l.5-59.7l.5-37.8l.5 43.3l.5 94.9l.5-37.4l.5 2l.5-59.5l.5 102.1l.5-45.6l.5 9.8l.5-55.9l.5 62.3l.5-46l.5 65l.5-36.9l.5 79l.5-75.4l.5 2.4l.5-52.8l.5 78.8l.5 37.9l.5-4.5l.5-104.2l.5-33.5l.5 35.2l.5 92.3l.5 20.5l.5-29.3l.5-96.1l.5-30.8l.5 46.1l.5 57.6l.5-36.9l.5 39.5l.5-3.3l.5 62.5l.5-63.9l.5-34.3l.5-56.3l.5 58.2l.5 4.2l.5 37.3l.5-51.6l.5-95.7l.5 62.8l.5-20.9l.5 44.6l.5 55.5l.5-34.1l.5 32.3l.5-22.5l.5 37.9l.5 30.6l.5-29.7l.5-65.8l.5-39.7l.5 40.3l.5 48.2l.5-8.8l.5 40.6l.5-45.2l.5-18.3l.5-47.7l.5 49.6l.5 22.1l.5 41.6l.5-46.3l.5-10.2l.5-46.4l.5 42.8l.5 1.4l.5 35.2l.5-42.5l.5 47.6l.5-36.5l.5 58.7l.5-54l.5 9.5l.5-57.1l.5 53.1l.5-31.7l.5 64.4l.5-39.1l.5 45.2l.5-60.9l.5 22.2l.5-57.4l.5 55.6l.5-48.6l.5 73.8l.5-48.7l.5 67.4l.5-61.4l.5 59.6l.5-52.5l.5 16.8l.5-55.7l.5 66.2l.5 43.5l.5-31.2l.5-78.3l.5-26.2l.5 32.5l.5 73.5l.5 35.7l.5-21.6l.5-76.1l.5-22.5l.5 5.9l.5 81.2l.5-52.4l.5 37.1l.5-15.6l.5 45l.5-56.3l.5 11.2l.5-67l.5 61.6l.5 .1l.5 55.4l.5-109.9l.5-65.5l.5 56.3l.5 82.2l.5 51.9l.5-23.6l.5-95.9l.5-29.2l.5 31.6l.5 78.4l.5-36.7l.5 82.2l.5-73.7l.5 .2l.5-56.2l.5 74.9l.5 31.5l.5-19.2l.5-67l.5-27.2l.5 19.8l.5 68.6l.5-30.9l.5 47.7l.5-49.7l.5 4.4l.5-47.7l.5 42.5l.5-5l.5 30.9l.5-49.8l.5 52.2l.5-22.9l.5 61l.5-60.6l.5-9.6l.5-49.2l.5 52.2l.5-10.4l.5 50.3l.5 27.6l.5-27.3l.5-62.4l.5-13.8l.5 16.3l.5 55.6l.5-48.2l.5 45.4l.5-36l.5 54.4l.5-45.2l.5-15.1l.5-6.8l.5 25.1l.5-14.4l.5 7l.5 27.9l.5 6l.5-57.2l.5-21.9l.5 46.7l.5 19.4l.5-36.3l.5 5.7l.5 34.8l.5 6l.5 3.7l.5-35l.5 6.3l.5-18.7l.5-3.7l.5 8.7l.5 26.8l.5 7.2l.5-35.7l.5 35.7l.5 15.9l.5-22l.5-30.8l.5-6.2l.5 57.5l.5-11.5l.5 2l.5-47l.5 23.8l.5-25.7l.5 6.2l.5 9.5l.5 19.7l.5 1.1l.5 5.7l.5-21.4l.5-3.5l.5-22.5l.5 46.2l.5-21.5l.5 4.4l.5-18.5l.5 1.9l.5 1.3l.5 33l.5 4.1l.5 11.9l.5-32.7l.5-8l.5-16.5l.5 11.1l.5 5.3l.5 9.3l.5 2.1l.5 2.3l.5 29.8l.5-19.9l.5-24.9l.5-21.8l.5 20.7l.5 45l.5-15.4l.5-40.3l.5-15.5l.5 29.2l.5 19.4l.5-19.8l.5 1l.5 14.5l.5 7.8l.5-16.9l.5-10.8l.5-7.3l.5 22.8l.5 28l.5-27.4l.5-13.5l.5-18.9l.5 12.4l.5 10.1l.5 16.8l.5 10.5l.5-19.9l.5-12.3l.5-5.7l.5 13l.5-8.8l.5 1l.5 20l.5 1.8l.5 8.7l.5-21.7l.5 1.1l.5-15.1l.5 14.3l.5 42.5l.5-19.3l.5-32.2l.5-30.6l.5 13.3l.5 39.5l.5-3.4l.5-23.1l.5 3.2l.5 36.9l.5-7.2l.5-35.5l.5-4.1l.5 24.1l.5 18.6l.5-43.1l.5 7.6l.5 26.6l.5 2.6l.5 1.7l.5-17.5l.5-10.6l.5-31.8l.5 19.5l.5 26.4l.5 31.1l.5-21.6l.5-27.6l.5-14.1l.5 22.3l.5 12.3l.5-5.5l.5 16l.5-6.8l.5-25.8l.5-34.5l.5 28.3l.5 30l.5 11.3l.5 32.2l.5-43.4l.5-21.1l.5-32.9l.5 16.2l.5 22.6l.5 25.6l.5-3.3l.5-39.2l.5-20.9l.5 39.5l.5 22.7l.5-16.4l.5-10.3l.5-4.5l.5 15.8l.5-6.7l.5-3.5l.5 19.6l.5 2.9l.5 7.7l.5-28.9l.5 3.9l.5-26.6l.5 37.9l.5-11.5l.5 15.5l.5-27.2l.5-7.2l.5-5.9l.5 51.7l.5-2.9l.5 11l.5-33.4l.5 9.3l.5-26.8l.5 1.7l.5 9.4l.5 30.9l.5 11.5l.5-63.9l.5 5.7l.5 30.1l.5 22.3l.5-41.1l.5-7.1l.5 42.3l.5 18.9l.5-34l.5-34.9l.5-24.8l.5 38.4l.5-5.4l.5 17.6l.5 28.2l.5-10.1l.5-39.7l.5-3.2l.5 22.4l.5 16.3l.5-15.9l.5 39.4l.5-12.3l.5-30l.5-39.9l.5 17.7l.5 53.3l.5-.8l.5-27.4l.5-20l.5 8.3l.5 25.6l.5 9.3l.5-28.2l.5 10l.5-18.8l.5 16.5l.5 43.7l.5-17.5l.5-19.4l.5-39.3l.5 4.8l.5 53.9l.5-9.4l.5-27.7l.5-16.2l.5-19.4l.5 40.3l.5-7.7l.5 27.9l.5 46.8l.5-36.7l.5-23.4l.5-8.5l.5-9.1l.5 13.9l.5 1.9l.5-1.4l.5 8l.5 .3l.5 1.7l.5 22.2l.5-16.3l.5-16.1l.5-17.4l.5 10.5l.5-14.7l.5-40.4l.5 34.2l.5 30.1l.5 22l.5 28.3l.5-39.5l.5-30.1l.5-29.9l.5 37.9l.5 9.6l.5 12l.5 31.8l.5-17l.5-37.3l.5-3.6l.5 26l.5 21.7l.5-29.3l.5-23.7l.5 5.1l.5 32.9l.5 28.6l.5-37l.5-5.7l.5-21.6l.5 6.5l.5 12.6l.5 16.6l.5-1.2l.5-28.9l.5-10.2l.5 24.5l.5-22l.5-44.4l.5 30.3l.5 50.3l.5 17.9l.5-30l.5-15.8l.5-4.4l.5 18.9l.5-11.1l.5-10l.5 34.1l.5 .2l.5 5.3l.5-29l.5 10.4l.5-18.6l.5-3.3l.5 17.7l.5 26.7l.5-6.4l.5-48.3l.5-23.1l.5 56.6l.5 36.7l.5-38.3l.5-27.1l.5 8.4l.5 20.9l.5-19.3l.5 5.8l.5 23.6l.5 5.5l.5-27.3l.5 26l.5 .8l.5-9.8l.5-36.4l.5 20l.5 54.1l.5-19.3l.5-52.7l.5 4.5l.5 30.5l.5 14.9l.5-52l.5 27.6l.5 38.3l.5-8.1l.5-56.7l.5-6.1l.5 33.4l.5 22.4l.5-33.7l.5-5.9l.5 33.1l.5-4.7l.5 5.6l.5-25l.5 2.3l.5-44.9l.5 17.5l.5 19.2l.5 28.1l.5 2.6l.5-13.1l.5 34l.5-13l.5-33.3l.5-30.4l.5 15.5l.5 39.4l.5-1.9l.5-17.7l.5 19.2l.5 5.6l.5-17.9l.5-28.5l.5 8.4l.5 31.4l.5-1l.5-18.2l.5 20.1l.5-5.8l.5-8.1l.5-16.7l.5 5.2l.5 16.7l.5-2.9l.5 3.4l.5 36.8l.5-25.1l.5-19.5l.5-13.6l.5-1.2l.5 35.4l.5 1l.5-46.3l.5 4l.5 40l.5-3.3l.5-29.4l.5-3.8l.5-.6l.5 19l.5-17.7l.5 2l.5 36.1l.5 18.1l.5-32.5l.5-16.1l.5-4.6l.5 15.1l.5-2.5l.5 17l.5-5.4l.5-18.5l.5-29.9l.5 13.8l.5 44.9l.5 15.6l.5-42.7l.5-8l.5-9.3l.5 20.1l.5-1.9l.5-1.8l.5 30l.5 20.3l.5-44.6l.5-12l.5-2.4l.5 13.1l.5-5.4l.5 18l.5 39.3l.5-24.1l.5-37.1l.5-.9l.5 17.2l.5 6.5l.5 13.2l.5-24.3l.5 1.1l.5-16.5l.5 2.7l.5 9.8l.5 15.2l.5 10.2l.5-20l.5-12.8l.5-2.4l.5 19.6l.5-15.9l.5 12.4l.5 39.4l.5-18l.5-52.1l.5 .1l.5 36.7l.5 24.1l.5-63.1l.5 12.2l.5 37l.5 10.8l.5-40.1l.5 30.4l.5 9.4l.5-18.9l.5-26.3l.5 2l.5 32.9l.5-.2l.5-23.4l.5-9.7l.5-8.9l.5 25.2l.5-16.3l.5 5.2l.5 21.5l.5 5.6l.5-29.8l.5 26.9l.5 11.5l.5-19.5l.5-27.5l.5-5.4l.5 54l.5 3.5l.5-52.5l.5-43.4l.5 54.9l.5-7.8l.5-10.1l.5 3l.5 53l.5-8.9l.5-22.4l.5-20.8l.5-24.3l.5 34.8l.5 6.6l.5-2.6l.5 16.8l.5 1.7l.5-17.6l.5 5.4l.5 17.5l.5-2.8l.5-28l.5 .3l.5 53.3l.5 26l.5-48.3l.5-43.9l.5 55.9l.5 2.5l.5-48.7l.5 35.7l.5 2.8l.5-10.7l.5-30.1l.5 6.9l.5 39.2l.5-6.2l.5-36l.5 13.3l.5 29l.5-10l.5-27.8l.5-9.4l.5 22.4l.5 11.1l.5-16.7l.5 21.5l.5 2.1l.5-12.4l.5-21.1l.5-2.2l.5 44.5l.5-1l.5-42.6l.5 10.3l.5 23.9l.5-8l.5-20l.5-6.4l.5 23.9l.5 28.7l.5-26.6l.5-20l.5-17.2l.5 22.7l.5 .3l.5 23.2l.5 45.9l.5-25.8l.5-52.6l.5 7l.5 36.6l.5-1.3l.5-48.2l.5-13.9l.5 30.6l.5 24.4l.5-22.7l.5 21.7l.5 5.3l.5-14.6l.5-33.2l.5-6l.5 61.6l.5-5.2l.5-45.7l.5 37.9l.5 7.3l.5-13.1l.5-29.6l.5-2.1l.5 48.5l.5-5.9l.5-32l.5-3.4l.5 23.6l.5 2.6l.5-1l.5-42.9l.5-36.4l.5 36.6l.5 16.8l.5 10l.5 12.5l.5 5.4l.5-26.5l.5 .9l.5-3.3l.5-38.4l.5 24l.5 16.9l.5-3.9l.5 21.8l.5-15l.5-5.5l.5 34.2l.5-3l.5 2.1l.5-24l.5 9.9l.5-34.2l.5 10.1l.5 12.9l.5 20.2l.5 3l.5-41.9l.5-3.1l.5 36.2l.5 11.2l.5-44.7l.5-4.2l.5 55.8l.5-4.1l.5-32.8l.5-13l.5 3.1l.5 23.5l.5-17.6l.5 3.5l.5 19.5l.5-.1l.5-20.5l.5 4.3l.5 21.8l.5-4.4l.5-31l.5-.1l.5 25.5l.5 16.7l.5-35.4l.5-14l.5 51.9l.5-3.7l.5-28.3l.5-6.4l.5 .1l.5 20.8l.5-14.3l.5-4.9l.5 23.1l.5 1.7l.5-29l.5 .9l.5 30.3l.5 2.1l.5-21.4l.5 30.8l.5-12.5l.5-12.3l.5-16.3l.5-3.3l.5 35.3l.5 1.3l.5-31.2l.5-5.5l.5 30.2l.5 10.3l.5 2.6l.5-28.1l.5 4.9l.5-22.9l.5 12l.5 6.4l.5 7l.5 3.8l.5-20.5l.5 4.1l.5 20.6l.5 3.7l.5-16l.5-13l.5-3.2l.5 24.9l.5-29.8l.5-5.8l.5 51.2l.5-12l.5-35.9l.5 5.7l.5 43l.5 5.9l.5-31.9l.5-23.5l.5-15.7l.5 36.8l.5-18.3l.5 5.3l.5 41.1l.5-5.2l.5-31.6l.5 9.2l.5 30.4l.5-9l.5-31.6l.5-1.3l.5 18.2l.5 6.4l.5-14.3l.5 3.8l.5 12.4l.5-1.5l.5-26.5l.5-4.2l.5 21.9l.5 7.7l.5-33.4l.5 19.5l.5 32.7l.5-3.2l.5-42.7l.5-.4l.5 20.1l.5 12.1l.5-30.3l.5 1.6l.5 26.2l.5-2.8l.5-23.6l.5 1.1l.5 29.6l.5-2.6l.5 5.9l.5-26.4l.5 7.4l.5-13.6l.5 1.5l.5-1.6l.5 26.4l.5-3.6l.5-22l.5 5.3l.5 16.4l.5 2.8l.5 3.2l.5-17.9l.5 7.2l.5-18.8l.5 .2l.5 .5l.5 25.7l.5 8.4l.5-35.8l.5-3.7l.5 33.1l.5 .3l.5-36l.5 12.8l.5 31.6l.5-7.6l.5-33.9l.5-6.5l.5 23.5l.5 11.4l.5-19.1l.5 6.4l.5 15.7l.5-2l.5-19.4l.5-3.5l.5 15l.5 8.4l.5-20.3l.5-5.4l.5 28.7l.5 2.4l.5-30.6l.5 1l.5 25.2l.5 6.4l.5-1.7l.5-16.8l.5 1.8l.5-25.6l.5 9.3l.5-3.3l.5 28.9l.5 .8l.5-22.9l.5 1.7l.5 17.7l.5 1.7l.5-20.6l.5 3l.5 17.8l.5 1.5l.5-13l.5-10l.5-13l.5 19.1l.5 2.7l.5-1.3l.5 6.3l.5 5.3l.5-19.1l.5 6.3l.5 13.3l.5-.6l.5 3.4l.5-12.6l.5 5l.5-16.8l.5-1.8l.5 .3l.5 24.6l.5 5.8l.5-32.7l.5 10.8l.5 20l.5-1.9l.5-31.7l.5-8.3l.5 26.2l.5 20.3l.5-35l.5-2l.5 29.4l.5 1.4l.5-31l.5 1.3l.5 33.6l.5 3.7l.5-31.5l.5-6l.5-4.5l.5 23.9l.5-14.7l.5 3.9l.5 21.6l.5 5.7l.5-18.4l.5-9.8l.5-1.2l.5 12.4l.5-2.8l.5 15.2l.5-4.8l.5-9.8l.5-18.6l.5 5.3l.5 22.3l.5 2.9l.5-20.7l.5 5.6l.5 17.9l.5 18.4l.5-30.8l.5-11.3l.5 .9l.5 12l.5-18.6l.5-2.4l.5 33.6l.5 15.4l.5-35.5l.5-13.8l.5 8.3l.5 17.1l.5-14.6l.5 1l.5 18.6l.5 2l.5-21.2l.5 .3l.5 13.6l.5-4l.5 1.3l.5 19l.5-14.3l.5-11.7l.5-13.5l.5 7.6l.5 14.7l.5 .3l.5-11.1l.5-1.6l.5 12.6l.5-.3l.5-16.1l.5-3.4l.5 32.9l.5 10.2l.5-30.6l.5-11.8l.5-.5l.5 16.3l.5-12.6l.5 6.2l.5 18.6l.5-4.2l.5-18.8l.5-.4l.5 8.9l.5 4.5l.5-8.4l.5-1.9l.5 10.8l.5-.1l.5-7.5l.5 13.1l.5 .8l.5-16.7l.5-24.3l.5 12.1l.5 27.2l.5 2.4l.5-42.6l.5-20.9l.5 35.9l.5 38.4l.5-41.7l.5 1.3l.5 36.3l.5 9.9l.5-33.2l.5-11.2l.5-8.3l.5 28.4l.5-12.8l.5 7.5l.5 13.6l.5 3.5l.5-33.4l.5-3.6l.5 26l.5 9.8l.5-29.4l.5 4.1l.5 24.4l.5 3.7l.5-19.9l.5 24.7l.5-5.7l.5-13.8l.5-15.6l.5-1.3l.5 35.3l.5 1.5l.5-31.9l.5-4l.5 31.9l.5-6.2l.5-14.2l.5 15.3l.5 .6l.5-13.8l.5-28.7l.5 16.5l.5 22.2l.5-2.6l.5-8.5l.5-2.3l.5 12.2l.5 2.1l.5-13.3l.5 6l.5 19l.5-7.4l.5-26.4l.5-6.1l.5 20.1l.5 9.1l.5-18.3l.5 4.9l.5 18.8l.5-.6l.5-28.9l.5 2.7l.5 14l.5 8l.5-32.1l.5 2.2l.5 30.5l.5-2.1l.5-12.5l.5 14.7l.5-2.9l.5-13.5l.5-24.8l.5 13.5l.5 20.6l.5 2.8l.5-17.5l.5-4.5l.5 29.5l.5-7.5l.5-24.6l.5 .9l.5 23.9l.5 6l.5-.1l.5-25.2l.5 10.6l.5-11.5l.5-.4l.5 4l.5 29.5l.5 27.7l.5-32.8l.5-5.8l.5-5.1l.5-7.2l.5-11.5l.5 5.6l.5 9.3l.5 2.7l.5-4.3l.5 10.9l.5-1l.5-14.4l.5-16.4l.5 8.7l.5 15.2l.5 .8l.5-12.6l.5-.5l.5 20.3l.5-7.4l.5-10.7l.5 1.7l.5 14.3l.5 .9l.5-21l.5-9.2l.5 1.6l.5 16.8l.5-13.8l.5 1.2l.5 26l.5-.9l.5-16.5l.5 17.1l.5-6.7l.5-8.5l.5-10.5l.5 7l.5 11.5l.5 .6l.5-11.4l.5 .5l.5 9.2l.5 4.3l.5 12.2l.5-25.2l.5 3.1l.5-13.1l.5 5.7l.5-2.9l.5 19.5l.5 5.6l.5 .5l.5-18.4l.5-.6l.5 0l.5 43.9l.5-26.6l.5-1.1l.5 .7l.5-26.8l.5 12.4l.5 20.4l.5-2.3l.5-40l.5-8l.5 26.8l.5 18.6l.5-25.6l.5-7.1l.5 38l.5-3.7l.5-23.9l.5 4.6l.5 23.1l.5-.1l.5-33.1l.5-10.1l.5 20.1l.5 9.2l.5-16.8l.5-2.2l.5 23l.5 4.2l.5-21.5l.5-.2l.5-9.1l.5-27.4l.5 31.5l.5 9.6l.5 1.7l.5-22.4l.5 10.4l.5 .1l.5 20.7l.5 5.6l.5-17l.5 25l.5-5.3l.5-10.7l.5-12.8l.5-7.1l.5 26.7l.5 2.4l.5-17.5l.5 24.2l.5-4.9l.5-17.3l.5-21.1l.5 6.3l.5 34.9l.5-2.8l.5-22.1l.5 22.1l.5-1.1l.5 35.5l.5 66.3l.5-78l.5-29.6l.5-2.8l.5-6.6l.5 23.2l.5-9.7l.5-16l.5-22.2l.5 11.2l.5 21.4l.5 1.5l.5-17l.5 .6l.5 23l.5-.2l.5-30l.5 5.5l.5 19.8l.5 6.7l.5 9.1l.5-26.6l.5-4.4l.5-21.4l.5 11.5l.5 8.2l.5 14.5l.5-.8l.5-16.5l.5 9.9l.5 22.3l.5-10.4l.5-19.3l.5-3.8l.5 8.7l.5 5.2l.5-11.1l.5 .9l.5 18.7l.5-3.4l.5-17.2l.5 1l.5 19.1l.5 7l.5-17.6l.5-16l.5-4.3l.5 16.7l.5-5l.5 5.1l.5 11.2l.5-1.2l.5-15.2l.5-1.3l.5 19l.5 .2l.5-2.9l.5 30.1l.5-24.1l.5-14l.5-7.8l.5 4.8l.5 8.8l.5 2.5l.5-12.9l.5 .9l.5 16.1l.5 11.5l.5-20.3l.5-9.7l.5 21.7l.5 31.7l.5-36.6l.5-20.2l.5 18.5l.5 .6l.5-7.2l.5 14.2l.5 .6l.5-14l.5-30.1l.5 6.9l.5 40.2l.5-6.5l.5-25.2l.5 .3l.5 31.4l.5 .6l.5 11.2l.5-31.3l.5 4.4l.5-13.9l.5 .8l.5-.8l.5 33.9l.5-5.5l.5-32.6l.5 1.6l.5 27.7l.5-4.2l.5-20.1l.5 3.1l.5 17.3l.5 6.4l.5-16.7l.5-8.8l.5-8.6l.5 17.7l.5-4.7l.5 .8l.5 16.2l.5-.8l.5 12.1l.5-27.1l.5 5.4l.5-13.1l.5-.4l.5 .3l.5 25.1l.5-.5l.5-20.4l.5 4.1l.5 18.8l.5-5.4l.5-16.4l.5-4.5l.5 11.5l.5 7.2l.5-16.3l.5 1.1l.5 12.6l.5 1.8l.5-19.2l.5-.9l.5 24.5l.5 6.8l.5 12.7l.5-30.3l.5 5.7l.5-15.7l.5-.5l.5-8.9l.5 27.4l.5 6.1l.5-34.2l.5 14.3l.5 36.2l.5-14l.5-31.1l.5 1.9l.5 11.8l.5 8.9l.5-20.5l.5 5.2l.5 12.5l.5-.3l.5-10.6l.5 5.7l.5 12.7l.5-6.5l.5-15.4l.5-5.7l.5 13.3l.5 3.9l.5-9.6l.5 3.4l.5 7.1l.5 .6l.5-15.3l.5 4l.5 13.7l.5 1.6l.5-9.3l.5 29.2l.5-14.2l.5-15.6l.5-11.3l.5 3.9l.5 14.9l.5-3.1l.5-9.5l.5-2.7l.5 16.1l.5-.4l.5-9.7l.5-3.9l.5 20.7l.5-.5l.5 9l.5-27.3l.5 8.3l.5-15.8l.5 .4l.5 .2l.5 38l.5-6.1l.5 5.3l.5-30l.5 10.1l.5-17.7l.5-3.4l.5 5.4l.5 15l.5-1.7l.5-8.8l.5 1.1l.5 7.7l.5 9l.5 15.9l.5-23l.5-7.8l.5-7.2l.5 1.4l.5-5.7l.5 22.7l.5 9.2l.5 15.9l.5-33.6l.5 .5l.5-24.6l.5 5.2l.5 2.7l.5 32.9l.5 3.2l.5-23.9l.5 31.3l.5-3.6l.5-17.7l.5-14.4l.5-5.6l.5 36.3l.5-6.2l.5-18.8l.5 20.9l.5 .6l.5-11l.5-16l.5-6.9l.5 33l.5 1.8l.5-39.3l.5 7.3l.5 28.8l.5 6.3l.5-41.2l.5 9.2l.5 13l.5 14.4l.5-37.1l.5-9.2l.5 57.8l.5-2.3l.5-54.3l.5 5.1l.5 48.5l.5 4.8l.5 2.5l.5-47.5l.5 31l.5-26l.5-7.5l.5-4l.5 35.6l.5 7.6l.5-33.3l.5 1.1l.5 21.3l.5-2l.5-15.8l.5-6.6l.5 .2l.5 18.2l.5-25.2l.5 6.1l.5 22.6l.5 5.5l.5-32.6l.5 4.8l.5 28.9l.5-6.9l.5 .7l.5-13l.5 4.3l.5-15.6l.5-.6l.5-2.5l.5 34.9l.5 2.2l.5-33.9l.5 2.4l.5 23.3l.5-6.8l.5-8.4l.5 2.3l.5 10.7l.5 5.5l.5-12.2l.5-6.9l.5-3.6l.5 7.5l.5-5.6l.5 .2l.5 18.5l.5 8.3l.5-24.5l.5-9.8l.5 .1l.5 17.8l.5-27l.5 8.9l.5 35.5l.5-4.6l.5-36.4l.5 14.1l.5 17.3l.5 6l.5-32.6l.5 2.8l.5 19.1l.5 5.3l.5-29.6l.5 2.4l.5 34.9l.5-4.1l.5-1.8l.5-21.5l.5 15.6l.5-19.6l.5 .3l.5-7.4l.5 40.5l.5-6.4l.5-37.6l.5 5.8l.5 38.6l.5-4.9l.5-38.9l.5 5.9l.5 28.8l.5 1.9l.5-34.7l.5 4.7l.5 23.2l.5 7.7l.5-30.3l.5 2.5l.5 25.1l.5 9.1l.5-22l.5-9.7l.5-.3l.5 8.9l.5-4.5l.5 .5l.5 10.9l.5-3.4l.5 2.9l.5 24.2l.5-14.8l.5-13.1l.5-17.7l.5-1.3l.5 28.9l.5 4.3l.5-28.3l.5-2.6l.5 29.3l.5-3.3l.5-18.1l.5-9.9l.5 1.2l.5 16.3l.5-12.2l.5 4l.5 17.6l.5-6.4l.5-6.6l.5-1.6l.5 19.4l.5 20.4l.5-22.7l.5-13.7l.5 1.4l.5-.2l.5-2l.5 4.8l.5-5.4l.5 3.1l.5-2.8l.5 3.9l.5-3.8l.5 3.6l.5-2.9l.5 13.9l.5 18.8l.5-19.3l.5-13.9l.5-12l.5-18.8l.5 18.9l.5 11.9l.5 2.6l.5-2.2l.5 2.3l.5-2.9l.5 3.1l.5-2.4l.5 1.9l.5-2l.5 2.1l.5-2.4l.5 2.7l.5-2.8l.5 3.6l.5-3.3l.5 2.2l.5-1.8l.5 2.3l.5-2.6l.5 1.9l.5-1.7l.5 2.1l.5 7.6l.5 17l.5-18.3l.5-21.5l.5-20.7l.5 13.8l.5 2l.5-3.5l.5-7.2l.5 1.1l.5-2l.5 7.2l.5 2.7l.5 10.4l.5 2.2l.5 6.7l.5-1.6l.5 7.3l.5-1.2l.5 3.3l.5-2.5l.5 3.2l.5-3.2l.5 2.4l.5-3.8l.5 2.1l.5-3.9l.5 1.4l.5 11.1l.5 23.4l.5-25.5l.5-21.9l.5-17l.5 10.6l.5 .5l.5-.3l.5-7.5l.5 1.7l.5-2l.5 6.5l.5 1.4l.5 7.8l.5 1.3l.5 7.5l.5-.5l.5 5.4l.5-2l.5 4.8l.5-3.7l.5 3.2l.5-3.3l.5 2.4l.5-4.2l.5 2.5l.5-3.8l.5 2.1l.5-3.9l.5 3l.5 7.9l.5 19.2l.5-21.5l.5-21.5l.5-22.9l.5 14.5l.5 .6l.5-.2l.5-10.2l.5 2.9l.5-6.1l.5 11.8l.5 .9l.5 11.5l.5 1.4l.5 8.8l.5-.2l.5 6.2l.5-2.6l.5 4l.5-3.7l.5 4.4l.5-3.9l.5 3.4l.5-4.5l.5 3.2l.5-5.6l.5 3.6l.5 6.2l.5 18l.5-20.5l.5-20.7l.5-21.9l.5 13.5l.5 1.2l.5-1.2l.5-8.6l.5 1.8l.5-3.2l.5 7.9l.5 2.5l.5 10.2l.5 1.4l.5 8.9l.5-.3l.5 6.3l.5-3.2l.5 5l.5-3.7l.5 5.9l.5-4.9l.5 2.3l.5-4.7l.5 3.3l.5-5.1l.5 2.7l.5 7.3l.5 24.1l.5-23.7l.5-19.6l.5-15.8l.5 9.5l.5 .4l.5-.8l.5-5.9l.5 1l.5-2.6l.5 7.1l.5-.5l.5 9.9l.5-.1l.5 7.9l.5-1.2l.5 4.6l.5-3.8l.5 8.4l.5-4.5l.5 2.3l.5-3.9l.5 2.6l.5-3.3l.5 2l.5-3.8l.5 2.3l.5 9.6l.5 21.9l.5-23.5l.5-20.8l.5-17.1l.5 10.5l.5 .8l.5-1.7l.5-6.6l.5 1.2l.5-1.1l.5 6l.5-.5l.5 9.5l.5 1.9l.5 7l.5 .3l.5 4.6l.5-.8l.5 3.5l.5-2.9l.5 2.3l.5-2.9l.5 2.4l.5-4l.5 2.7l.5-4.6l.5 3.4l.5 8.5l.5 24l.5-24.8l.5-18.6l.5-13.2l.5 8.1l.5 .2l.5 1.6l.5-8.3l.5 2.8l.5-4.6l.5 7.9l.5-.7l.5 8.3l.5 .5l.5 5.9l.5-1.4l.5 6l.5-2.2l.5 3.6l.5-2.9l.5 4.1l.5-4l.5 2.6l.5-4.7l.5 3.2l.5-4.6l.5 2l.5 10.4l.5 20.9l.5-22.9l.5-17.8l.5-12.9l.5 7.8l.5 .9l.5-1l.5-4.5l.5 .7l.5-1.3l.5 4.1l.5 1l.5 6.3l.5 1.4l.5 5.7l.5-1.2l.5 5l.5-2.3l.5 4.2l.5-3.4l.5 3.6l.5-3.4l.5 2.4l.5 3.5l.5 12.6l.5-14.7l.5-12.2l.5-10.8l.5 6.2l.5-1.8l.5 1.7l.5-5.8l.5 3.1l.5-3.6l.5 5l.5 .2l.5 6.3l.5-1.4l.5 6.5l.5-1.5l.5 5.7l.5-3.4l.5 5.5l.5-4.4l.5 4l.5-4.5l.5 3.5l.5-5.5l.5 5.3l.5 8l.5 22.8l.5-26.2l.5-20.1l.5-17.7l.5 10.4l.5 .6l.5-1l.5-8l.5 3.7l.5-3.1l.5 6.4l.5 .4l.5 9.3l.5-.9l.5 8.8l.5-.1l.5 4.9l.5-1.5l.5 4.2l.5-3.9l.5 4.9l.5-5.1l.5 3.9l.5-5.1l.5 4.8l.5-7.2l.5 3.5l.5-3.1l.5 2.7l.5 12.3l.5 25.9l.5-27.2l.5-22.3l.5-16.3l.5 10.2l.5 .7l.5-1.2l.5-5.5l.5 1.6l.5-6.1l.5 9.9l.5 .4l.5 8.5l.5 1.4l.5 5.9l.5-.3l.5 4.7l.5-.7l.5 3l.5-2.3l.5 3.3l.5-5.1l.5 4l.5-3.6l.5 1.8l.5-5.1l.5 2.9l.5 10l.5 22.8l.5-24.2l.5-21.5l.5-16.6l.5 10.4l.5 1.2l.5-1.4l.5-6.1l.5 1.3l.5-1.5l.5 6.3l.5 1l.5 7.4l.5 1.2l.5 7.8l.5-3.4l.5 7.6l.5-1.9l.5 4.1l.5-2.1l.5 2.8l.5-4.4l.5 3.4l.5-4l.5 1.9l.5-7.3l.5 6.4l.5-5.1l.5 15l.5 18.5l.5-20.2l.5-24.4l.5-15.1l.5 9.1l.5 6.4l.5-7.3l.5-1.2l.5-4.4l.5 2.2l.5-1.7l.5 10.1l.5 1l.5 9.1l.5 .2l.5 6.3l.5-1.5l.5 4.9l.5-1.6l.5 3.3l.5-3.3l.5 3.1l.5-4.5l.5 2.8l.5 9.5l.5 21.3l.5-24.1l.5-20.5l.5-15.6l.5 9.5l.5-.1l.5 .1l.5-7l.5 1.9l.5-2.7l.5 5.7l.5 1l.5 8.2l.5 .4l.5 6.7l.5-2.5l.5 8.1l.5-2.9l.5 5l.5-3.9l.5 3.2l.5-3.1l.5 3l.5-5.4l.5 3.2l.5-4.9l.5 3l.5-3.6l.5 2.7l.5-3.4l.5 3.3l.5-7.3l.5 7.5l.5 4.4l.5 16.3l.5-17.9l.5-13.7l.5-13.7l.5 8l.5-1.3l.5 2.7l.5-8.9l.5 6.4l.5-4.2l.5 8.8l.5-.6l.5 9.3l.5-1.3l.5 9.3l.5-5.5l.5 5.8l.5-4.1l.5 6.1l.5-5.4l.5 5.3l.5-5.3l.5 4.9l.5-12.6l.5 10.2l.5-7.5l.5 5.3l.5-4.6l.5 4.9l.5-5.3l.5 4l.5-5.1l.5 4.8l.5-5.2l.5 5.3l.5-4.9l.5 5.6l.5-4.5l.5 4.1l.5-5.9l.5 7.7l.5-8.9l.5 7.3l.5-5.4l.5 4.4l.5-4.2l.5 5.5l.5-4.4l.5 3.7l.5-3.9l.5 3l.5-3.6l.5 3.8l.5-8.2l.5 9.8l.5-5.1l.5 4.7l.5-5l.5 5.1l.5-4.8l.5 6.1l.5-6.2l.5 4.3l.5-4l.5 3.7l.5-3.3l.5 2.9l.5-3.7l.5 4.5l.5-3.9l.5 4.8l.5-6.2l.5 4.9l.5-5.1l.5 5.3l.5-3.9l.5 4.7l.5-5.4l.5 4.5l.5-4.8l.5 5.4l.5-5.7l.5 4.7l.5-3.7l.5 4l.5-5.2l.5 6l.5-4.6l.5 3.1l.5-3l.5 3.6l.5-5.2l.5 6l.5-4.6l.5 4.2l.5-5.9l.5 5.7l.5-4.2l.5 3.8l.5-8.1l.5 8.3l.5-4.6l.5 6.6l.5-5.6l.5 2.3l.5-2.3l.5 2.8l.5-2.2l.5 2.2l.5-2.3l.5 3.8l.5-3.6l.5 4.3l.5-4.6l.5 2.6l.5-2.2l.5 2.6l.5-4.2l.5 4.3l.5-2.6l.5 2.4l.5-3.2l.5 3l.5-2.3l.5 3.2l.5-3.1l.5 2l.5-1.9l.5 2.6l.5-3l.5 2.7l.5-2.8l.5 3.5l.5-3.3l.5 3l.5-2.2l.5 2.1l.5-2.6l.5 3.3l.5-3.9l.5 6.6l.5-6l.5 2.7l.5-3l.5 3.6l.5-4l.5 4.6l.5-5.4l.5 5.9l.5-5.7l.5 5.3l.5-5.3l.5 4.8l.5-4.6l.5 4.5l.5-4.4l.5 4.9l.5-5.9l.5 5.2l.5-4.3l.5 5.5l.5-5.7l.5 4l.5-3.9l.5 5.5l.5-6.2l.5-14.9l.5-25.3l.5 27.3l.5 33.8l.5 34l.5-34.2l.5-12.3l.5-5.2l.5 7.2l.5-6.4l.5 8.5l.5-8.4l.5 12.5l.5-13.8l.5 6.1l.5-5.4l.5 3.8l.5-6.4l.5 5.8l.5-6.9l.5 9.2l.5-9.6l.5 7.4l.5-6.2l.5 4.9l.5-4.2l.5 3.7l.5-4l.5 3.5l.5-3.3l.5 3l.5-2.7l.5 2.4l.5-2.6l.5 3l.5-2.8l.5 2.7l.5-2.9l.5 2.5l.5-1.9l.5 2l.5-2.2l.5 2.1l.5-2l.5 2.8l.5-2.7l.5 3.3l.5-4.2l.5 4.1l.5-3.5l.5 3.3l.5-4.1l.5 5l.5-8l.5 7.2l.5-4.9l.5-13.4l.5-24.9l.5 24.6l.5 37.1l.5 38.4l.5-37.5l.5-17.1l.5-7.1l.5 8.2l.5-3.9l.5 6.9l.5-7.3l.5 5.6l.5-6.7l.5 5.1l.5-5.1l.5 3.8l.5-8.7l.5 7.2l.5-5.6l.5 5.3l.5-5.5l.5 5.6l.5-5.9l.5 7l.5-6l.5 5l.5-5.5l.5 5.9l.5-6l.5 4.6l.5-4.3l.5 4.3l.5-5.3l.5 6.4l.5-6.2l.5 5.7l.5-6.2l.5 6.3l.5-5l.5 4.6l.5-4.2l.5 5.3l.5-7.6l.5 7.2l.5-6.2l.5 6.3l.5-7.1l.5 7.8l.5-7.1l.5 6.8l.5-7.1l.5 6.2l.5-5.6l.5 4.7l.5-4.5l.5 5.9l.5-6.7l.5 6.5l.5-6.5l.5 7.9l.5-8.1l.5 7.4l.5-7.3l.5 6.7l.5-6.9l.5 6.7l.5-6.4l.5 7.4l.5-7.6l.5 6.1l.5-4.2l.5 4.2l.5-5.9l.5 6.2l.5-6.1l.5 7.3l.5-5.5l.5 5l.5-5.7l.5 5.5l.5-5.1l.5 5.6l.5-4.8l.5 3.6l.5-4l.5 4.3l.5-3.6l.5 2.9l.5-3.6l.5 5.1l.5-4.7l.5 4.7l.5-8.8l.5 7.7l.5-3.1l.5 4l.5-7.2l.5 8.2l.5-6.6l.5 5.4l.5-5.7l.5 5.2l.5-3.8l.5 4.3l.5-4.6l.5 6.4l.5-6.8l.5 4.7l.5-5.1l.5 6.8l.5-6.1l.5 6.5l.5-7.7l.5 6.3l.5-5.7l.5 5.4l.5-5.1l.5 4.9l.5-8.5l.5 9.8l.5-6.3l.5 4.7l.5-2.8l.5 3.7l.5-4.2l.5 2.9l.5-2.6l.5 2.7l.5-3.7l.5 4.7l.5-5.1l.5 6.7l.5-7.1l.5 4.8l.5-3.8l.5 3.8l.5-4.8l.5 5.7l.5-5.1l.5 3.7l.5-5.4l.5 10.1l.5-9.4l.5 5.4l.5-7.5l.5 7l.5-5l.5 6.2l.5-5.2l.5 4.7l.5-4.7l.5 5.2l.5-6.2l.5 6.8l.5-5.4l.5 4.5l.5-6l.5 8l.5-7.3l.5 5.1l.5-4.8l.5 4.7" fill="none" stroke="#222" stroke-width="1.85" stroke-linejoin="round"/>
<path id="spikes" d="M472.4 302.8h0M732.4 306.3h0M743.9 301.8h0M679.4 577.8h0M680.6 278.0h0M688.4 547.8h0M754.4 636.8h0M766.9 585.0h0M775.9 585.0h0M769.9 518.0h0M778.9 468.0h0M787.9 467.0h0M785.4 561.5h0M790.9 511.0h0M796.9 536.0h0M799.9 479.0h0M805.4 539.5h0M807.9 489.5h0M814.4 543.4h0M818.9 518.6h0M822.9 519.5h0M830.4 523.4h0M833.4 492.0h0M837.9 543.4h0M847.9 505.7h0M850.9 446.0h0M852.9 582.0h0M858.9 577.0h0M864.9 509.0h0M868.4 512.8h0M870.4 524.0h0M880.9 505.7h0M885.9 579.0h0M891.9 519.5h0M894.9 525.0h0M897.9 515.0h0M903.4 495.0h0M905.4 391.6h0M915.9 498.0h0M919.4 550.8h0M921.4 577.6h0M924.4 558.0h0M929.9 497.0h0M931.9 460.5h0M933.9 404.0h0M936.9 571.0h0M939.9 548.7h0M816.4 250.0h0M860.4 244.0h0M926.9 244.0h0M896.8 344.0h0M899.4 354.5h0M944.4 547.7h0M949.4 484.4h0M952.9 493.2h0M955.4 488.3h0M959.9 561.2h0M964.4 483.4h0M967.4 490.5h0M970.4 485.6h0M976.4 509.3h0M978.9 491.0h0M983.9 528.5h0M987.4 474.6h0M990.4 531.3h0M993.9 469.2h0M997.4 485.4h0M1000.9 504.2h0M1006.4 537.3h0M1010.4 467.9h0M1015.9 467.8h0M1020.4 497.7h0M1025.9 539.6h0M1031.4 544.6h0M1036.4 554.7h0M1041.9 550.3h0M1045.9 521.6h0M1049.9 562.2h0M1055.4 535.7h0M1059.4 470.4h0M1063.9 509.4h0M1066.9 522.3h0M1072.4 511.3h0M1076.4 521.3h0M1080.9 498.2h0M1085.4 510.5h0M1090.4 504.4h0M1093.4 511.1h0M1098.4 495.9h0M1100.9 494.2h0M1104.4 496.8h0M1109.4 490.2h0M1111.4 507.2h0M1115.4 488.6h0M1118.4 510.2h0M1120.9 504.8h0M1124.9 509.4h0M1129.9 500.4h0M1132.4 506.7h0M1135.4 506.2h0M1138.9 498.0h0M1143.4 512.3h0M1147.9 504.0h0M1152.4 510.6h0M1156.9 503.9h0M1159.9 503.3h0M1163.9 511.6h0M1168.9 493.5h0M1173.9 486.7h0M1177.4 496.8h0M1179.4 504.6h0M1182.4 487.1h0M1184.9 504.9h0M1188.9 507.2h0M1191.4 489.8h0M1195.4 503.5h0M1199.4 503.0h0M1203.9 505.5h0M1207.4 493.9h0M1210.9 504.4h0M1214.4 493.6h0M1217.9 492.5h0M1221.4 485.3h0M1224.4 498.6h0M1229.4 482.3h0M1232.9 496.5h0M1235.4 493.6h0M1237.9 478.1h0M1242.4 480.2h0M1244.9 482.3h0M1246.4 206.7h0M1248.4 487.2h0M1251.9 491.3h0M1253.4 189.3h0M1255.9 476.9h0M1257.4 194.3h0M1260.4 488.6h0M1261.9 233.8h0M1263.4 469.2h0M1266.4 475.1h0M1268.4 473.9h0M1272.9 463.3h0M1276.4 448.0h0M1277.9 212.2h0M1278.9 461.3h0M1280.4 250.8h0M1282.4 444.3h0M1283.9 245.6h0M1286.9 470.6h0M1288.4 211.2h0M1288.9 451.1h0M1291.9 451.2h0M1293.4 230.9h0M1295.4 455.6h0M1297.9 455.3h0M1299.4 234.0h0M1300.4 444.8h0M1301.9 250.3h0M1304.9 446.7h0M1308.4 439.0h0M1309.9 240.6h0M1312.9 423.1h0M1316.9 436.2h0M1318.4 225.2h0M1321.4 427.6h0M1325.4 423.9h0M1326.9 245.4h0M1328.4 401.3h0M1329.9 243.1h0M1331.9 403.8h0M1335.4 413.6h0M1336.9 250.9h0M1338.9 421.0h0M1342.9 419.1h0M1344.4 233.1h0M1346.4 400.0h0M1347.9 235.1h0M1348.4 402.2h0M1349.9 260.1h0M1350.9 405.6h0M1352.4 228.9h0M1355.4 414.6h0M1359.4 403.8h0M1361.9 393.0h0M1363.4 231.0h0M1363.9 402.5h0M1365.4 250.3h0M1368.4 399.1h0M1369.9 253.6h0M1371.4 394.0h0M1372.9 259.3h0M1374.4 378.2h0M1375.9 240.9h0M1376.9 371.9h0M1379.9 395.7h0M1384.4 400.8h0M1385.9 268.4h0M1393.4 229.7h0M1395.9 370.3h0M1397.4 252.1h0M1397.9 387.7h0M1399.4 252.6h0M1406.4 369.7h0M1410.4 373.3h0M1415.4 246.3h0M1417.9 229.7h0M1420.4 260.0h0M1423.9 268.5h0M1425.9 378.2h0M1427.4 255.6h0M1429.9 363.6h0M1433.9 369.0h0M1435.4 238.7h0M1439.4 255.8h0M1441.4 396.3h0M1442.9 239.7h0M1443.9 364.7h0M1445.4 234.1h0M1448.4 242.3h0M1449.9 365.2h0M1453.9 367.8h0M1462.9 233.7h0M1465.9 255.5h0M1467.4 377.4h0M1468.9 257.1h0M1474.9 265.4h0M1483.4 269.7h0M1487.4 267.3h0M1489.9 241.8h0M1491.4 389.8h0M1492.9 233.6h0M1495.9 399.1h0M1510.9 370.4h0M1512.4 267.5h0M1515.9 374.2h0M1519.9 364.5h0M1521.4 268.4h0M1524.9 366.1h0M1526.4 274.7h0M1527.4 384.4h0M1528.9 248.7h0M1530.4 390.4h0M1531.9 270.2h0M1537.9 397.4h0M1539.4 257.3h0M1540.4 391.4h0M1541.9 242.7h0M1545.4 268.5h0M1549.9 366.7h0M1551.4 273.7h0M1556.4 263.2h0M1558.4 382.9h0M1562.9 366.9h0M1572.9 304.9h0M1585.4 355.2h0M1586.9 305.3h0M1589.4 357.5h0M1590.9 300.3h0M1596.4 359.3h0M1600.9 340.2h0M1615.4 282.8h0M1618.4 349.2h0M1646.9 307.6h0M1649.4 354.3h0M1670.9 305.2h0M1676.4 275.2h0M1680.4 304.8h0M1683.9 351.4h0M1685.4 301.6h0M1690.4 272.1h0M1694.9 353.2h0M1700.4 338.2h0M1701.9 297.9h0M1706.4 304.3h0M1714.9 361.1h0M1716.4 304.1h0M1723.9 300.5h0M1732.9 271.5h0M1737.4 283.1h0M1756.9 361.2h0M1758.4 308.0h0M1761.4 283.8h0M1764.4 298.1h0M1766.9 364.8h0M1774.9 305.9h0M1778.4 308.6h0M1785.9 342.1h0M1795.4 301.8h0M1811.9 339.2h0M1813.4 301.2h0M1816.4 347.4h0M1819.9 338.5h0M1835.9 342.3h0M1841.4 307.0h0M1845.4 337.3h0M1852.4 309.0h0M1859.9 296.5h0M1879.9 349.4h0M1881.4 308.3h0M1896.9 354.0h0M1906.4 335.2h0M1934.4 335.7h0M1948.9 334.9h0M2017.9 302.6h0M2164.9 340.0h0M2187.9 311.8h0M2222.9 299.3h0M2276.9 312.9h0M2288.4 314.8h0M1046.4 158.8h0M1050.4 158.8h0M1194.9 147.4h0M1273.4 176.0h0M1265.9 197.0h0M1344.9 192.0h0M1364.4 192.0h0M1393.9 196.0h0M1317.9 202.0h0M1301.9 215.0h0M1499.9 197.0h0M1538.9 201.0h0M1478.9 216.0h0M1686.9 257.0h0M1703.4 256.0h0M1797.9 258.0h0M1846.4 258.0h0M1850.9 272.0h0M2009.9 272.0h0M2098.9 277.6h0M1808.9 386.0h0M1830.4 386.5h0M1678.4 382.5h0M2113.4 438.5h0M2148.9 368.5h0M2324.9 349.9h0M2338.9 360.8h0M2353.9 353.0h0M2381.9 357.8h0M2395.9 357.8h0M2409.9 359.9h0M2423.9 358.0h0M2448.9 360.7h0M2463.9 364.4h0M2477.9 359.8h0M2492.4 356.6h0M2504.9 360.7h0M2521.9 346.9h0M2312.4 291.8h0M2605.4 280.8h0M2633.4 282.8h0" fill="none" stroke="#555" stroke-width="8.4" stroke-linecap="round"/>
<rect x="295.5" y="515.5" width="230" height="99.5" fill="#fff" stroke="#000" stroke-width="2"/>
<path d="M316 542.2H378.5" stroke="#222" stroke-width="2"/>
<circle cx="347.2" cy="588.3" r="4.2" fill="#555"/>
<path d="M294 1259.5H1577" stroke="#aaa" stroke-width="1"/>
<path d="M327 1259H1577" stroke="#000" stroke-width="12.4" stroke-dasharray="50 50" fill="none"/>
<path id="acc" d="M279.0 1327.5l.7-8.3l.7-3.5l.7-6.9l.7 .5l.7 2.1l.7 9.4l.7 4l.7 7.5l.7 2.2l.7 8.8l.7-1.7l.7 2.3l.7-2.3l.7 1.9l.7-1.5l.7 1.1l.7-1.2l.7 1.8l.7-2.8l.7 2.6l.7-2.9l.7 3.3l.7-3.8l.7 3.7l.7-2.5l.7 1.8l.7-3.5l.7 2.3l.7-.7l.7 2l.7-2.6l.7 3l.7-1.7l.7 1.5l.7-1.6l.7 0l.7 .2l.7 2l.7-3.5l.7 3.2l.7-2.3l.7 2l.7-2l.7 2.1l.7-1.2l.7 1.6l.7-1.9l.7 1.9l.7-1.7l.7 1.6l.7-1l.7 .9l.7-1l.7 .8l.7-.8l.7 1.1l.7-1.9l.7 1.8l.7-1.7l.7 1.6l.7-.8l.7 1l.7-2.1l.7 2.1l.7-2.2l.7 2.3l.7-3.2l.7 3.1l.7-3.3l.7 3.2l.7-1.4l.7 1.2l.7-2.7l.7 2.8l.7-3.3l.7 3.6l.7-4l.7 3.8l.7-4l.7 4.2l.7-2l.7 2l.7-3.8l.7 3.7l.7-2.2l.7 2.3l.7-1.8l.7 1.8l.7-2l.7 1.2l.7-2.3l.7 2.7l.7-3.5l.7 3.6l.7-3.4l.7 3.7l.7-1.9l.7 2l.7-3.2l.7 2.7l.7-3.1l.7 3l.7-3.1l.7 2.8l.7-2.5l.7 3.2l.7-2.3l.7 2.4l.7-2l.7 1.5l.7-2.3l.7 2.1l.7-1.5l.7 1.5l.7-3.2l.7 3.2l.7-1.7l.7 .5l.7-1.1l.7 2.3l.7-2.2l.7 2.9l.7-4.5l.7 4.1l.7-1.7l.7 1.9l.7-3.2l.7 3.2l.7-2.9l.7 2.5l.7-1.5l.7 2.1l.7-2.4l.7 1.9l.7-3.8l.7 4.1l.7-2.6l.7 2.6l.7-4.2l.7 4.4l.7-2l.7 1.7l.7-3.7l.7 4.1l.7-3.9l.7 3.6l.7-2.1l.7 1.9l.7-1.8l.7 1.8l.7-2l.7 2.2l.7-1.7l.7 1.3l.7-3.4l.7 3.7l.7-1.6l.7 1.2l.7-1.8l.7 2.3l.7-2.1l.7 1.6l.7-1.3l.7 1.7l.7-1.8l.7 2l.7-1.8l.7 1.3l.7-1.4l.7 1.9l.7-1.9l.7 .3l.7-.1l.7 1.7l.7-1.2l.7 1.1l.7-1.7l.7 1.8l.7-1.7l.7 1.7l.7-1.6l.7 1.4l.7-1.9l.7 1.7l.7-.9l.7 1l.7-2.6l.7 3l.7-1.4l.7 .9l.7-1.3l.7 1.7l.7-1.6l.7 1.4l.7-1.4l.7 1.4l.7-2.6l.7 2.4l.7-1.8l.7 2.4l.7-2.7l.7 2.1l.7-1.6l.7 1.6l.7-3l.7 3.1l.7-3.4l.7 3.7l.7-1.8l.7 1.6l.7-1.3l.7-.1l.7-1.1l.7 2.2l.7-3.7l.7 3.7l.7-4l.7 4.2l.7-3.9l.7 3.8l.7-2.8l.7 2.8l.7-1.8l.7 1.7l.7-2l.7 2.6l.7-1.8l.7 1.3l.7-2.5l.7 3l.7-2.4l.7 2.4l.7-1.7l.7 1.5l.7-1.6l.7 1.5l.7-1.8l.7 2l.7-2.6l.7 1.6l.7-.9l.7 1.3l.7-1.6l.7 2.3l.7-3.9l.7 3.3l.7-3.2l.7 3.6l.7-1.5l.7 1.6l.7-2.3l.7 2.1l.7-3.3l.7 3l.7-2.5l.7 2.9l.7-2.9l.7 2.4l.7-1.7l.7 1.9l.7-1.4l.7 1.3l.7-1.6l.7 2.1l.7-4.4l.7 4l.7-1.6l.7 1.8l.7-1.6l.7 1.8l.7-3.6l.7 2.9l.7-2.6l.7 3.1l.7-2.5l.7 2.5l.7-2.2l.7 1.7l.7-3.6l.7 4.4l.7-4l.7 3.6l.7-1.8l.7 1.6l.7-2.3l.7 2.7l.7-2.2l.7 2.3l.7-1.9l.7 1.7l.7-3.4l.7 3.3l.7-2.2l.7 2.1l.7-1.8l.7 2l.7-3.5l.7 3.4l.7-2.2l.7 2.5l.7-3.9l.7 3.8l.7-2.4l.7 2l.7-2.5l.7 2.6l.7-1.2l.7 1.1l.7-1.4l.7 1.7l.7-1.9l.7 2.2l.7-2l.7 1.4l.7-3.4l.7 2.7l.7-2.5l.7 3.8l.7-3l.7 2.9l.7-1.8l.7 0l.7-.2l.7 1.9l.7-1.4l.7 1.5l.7-3.4l.7 3.3l.7-2.3l.7 2.4l.7-2.8l.7 2.6l.7-3.3l.7 3.3l.7-3l.7 3.2l.7-3.6l.7 3.5l.7-3.2l.7 3.3l.7-1.7l.7 1.2l.7-1.3l.7 1.7l.7-2.9l.7 3.1l.7-1.6l.7 1.2l.7-1.2l.7 1.2l.7-2.4l.7 2.3l.7-2.1l.7 2.5l.7-2.1l.7 2l.7-1.6l.7 1.2l.7-1.4l.7 1.4l.7-.8l.7 1.1l.7-1.2l.7 1l.7-1.9l.7 1.9l.7-3.3l.7 3.3l.7-2.4l.7 2.9l.7-2.4l.7 2.3l.7-3.9l.7 3.6l.7-1.4l.7 1.4l.7-2.7l.7 1.2l.7-2l.7 3.5l.7-1.6l.7 .2l.7-1.8l.7 2.5l.7-2.3l.7 3.2l.7-2l.7 2.1l.7-2.3l.7 1.9l.7-2.6l.7 2.9l.7-2.1l.7 .9l.7-2.2l.7 3.1l.7-2l.7 2.5l.7-2.6l.7 .6l.7 .4l.7 1.5l.7-3.2l.7 2.7l.7-2.6l.7 3.2l.7-2.2l.7 2.1l.7-2.7l.7 2.6l.7-2.3l.7 2.3l.7-1.6l.7 1.7l.7-1.5l.7 1.6l.7-2.2l.7 2l.7-1.3l.7 1.5l.7-3l.7 2.8l.7-1.5l.7 1.8l.7-2.9l.7 2.7l.7-1.2l.7 1.3l.7-2.5l.7 2.2l.7-1.5l.7 1.4l.7-1.7l.7 1.6l.7-1.8l.7 2.1l.7-1.4l.7 1.3l.7-1.5l.7 1.6l.7-1.8l.7 2l.7-3.1l.7 2.8l.7-1.4l.7 1.3l.7-2.4l.7 2.7l.7-2.8l.7 2.8l.7-3.2l.7 2.8l.7-1.5l.7 1.8l.7-4l.7 4.1l.7-4l.7 3.7l.7-2.9l.7 3.1l.7-3.9l.7 3.5l.7-2.7l.7 3.2l.7-4.4l.7 3.8l.7-1.5l.7 .5l.7-.7l.7 .5l.7-2.2l.7 4l.7-2.4l.7 2.5l.7-3l.7 2.5l.7-1.7l.7 2.2l.7-4.1l.7 3.8l.7-3.2l.7 2.9l.7-2.8l.7 3.5l.7-4.4l.7 3.7l.7-1.3l.7 1.2l.7-2.7l.7 2.9l.7-1.5l.7 1.7l.7-1.4l.7 1.3l.7-1.8l.7 2l.7-1.4l.7 1.3l.7-2.3l.7 2.4l.7-2.5l.7 2.7l.7-1.7l.7 1.5l.7-3.9l.7 4l.7-2.3l.7 1.9l.7-1.5l.7 2l.7-4l.7 3.3l.7-2.1l.7 2.1l.7-3.9l.7 3.8l.7-2.5l.7 3l.7-2.9l.7 2.8l.7-4.4l.7 4.4l.7-3l.7 2.7l.7-3.7l.7 3.6l.7-1l.7 1.2l.7-1.4l.7 1.4l.7-1.8l.7 1.8l.7-1l.7 1.2l.7-1.1l.7 1.4l.7-1.7l.7 1.6l.7-1.2l.7 1.1l.7-1.1l.7 1l.7-1.7l.7 2.1l.7-1.9l.7 .5l.7-1.8l.7 3.1l.7-1.2l.7 1.2l.7-1.4l.7 1.5l.7-1.4l.7 .9l.7-2.3l.7 2.5l.7-1.9l.7 1.8l.7-3.2l.7 3.4l.7-2.4l.7 2.7l.7-3.7l.7 3.5l.7-1.9l.7 1.8l.7-2.2l.7 2.4l.7-1.7l.7 1.5l.7-2.4l.7 2.2l.7-1.9l.7 2l.7-2.4l.7 2.4l.7-1l.7 1.1l.7-2.8l.7 2.8l.7-2.3l.7 2.5l.7-2.6l.7 2.1l.7-1.1l.7 1.7l.7-1.7l.7 1.5l.7-3.5l.7 3.1l.7-2.1l.7 2.4l.7-3.1l.7 2.9l.7-1.4l.7 1.3l.7-1.8l.7 2l.7-1.6l.7 1.7l.7-2.4l.7 2.1l.7-5.9l.7 6.4l.7-7.7l.7 7.5l.7-59.6l.7 59.8l.7-13.4l.7 13.3l.7-10.3l.7 10.1l.7-56.2l.7 55.8l.7-5.9l.7 6.2l.7-4.4l.7 4.6l.7-3.7l.7 3.3l.7-3.4l.7 4l.7-4.9l.7 4.1l.7-1.3l.7 1.4l.7-1.8l.7 2.5l.7-2.6l.7 2.1l.7-4.2l.7 4.4l.7-3.9l.7 3.4l.7-1.5l.7 2l.7-1.6l.7 1.1l.7-1.3l.7 1.4l.7-1.7l.7 2.3l.7-4.3l.7 4.4l.7-2.5l.7 2l.7-3.6l.7 3.9l.7-2.1l.7 1.1l.7-2.2l.7 2.9l.7-2l.7 2.6l.7-2.6l.7 1.9l.7-1.5l.7 1.9l.7-1.6l.7 1.5l.7-2.9l.7 2.9l.7-1.3l.7 .5l.7-.5l.7-.2l.7-1.5l.7 2.9l.7-2l.7 1.9l.7-1.7l.7 2.1l.7-1.2l.7 1l.7-1l.7 1.1l.7-2.5l.7 2.5l.7-2.5l.7 2.6l.7-2.1l.7 2.3l.7-2.2l.7 1.8l.7-1.1l.7 .9l.7-1.3l.7 1.5l.7-1.2l.7 1l.7-1.4l.7 1.4l.7-2.8l.7 2.9l.7-1.7l.7 2.2l.7-1.4l.7 1.3l.7-3.4l.7 3.3l.7-1.3l.7-.1l.7-.2l.7 1.7l.7-1.9l.7 1.7l.7-3l.7 3.3l.7-3l.7 2.2l.7-1.5l.7 2l.7-2.9l.7 2.7l.7-1.4l.7 1.8l.7-3.2l.7 1l.7 .2l.7 1.6l.7-3.9l.7 3.9l.7-4.9l.7 5.1l.7-4.3l.7 4.3l.7-3.5l.7 3.3l.7-1.8l.7 .4l.7-1.4l.7 2.6l.7-1.7l.7 1.7l.7-4l.7 4.2l.7-2.1l.7 1.9l.7-1.4l.7 1.6l.7-2.1l.7 2.2l.7-3.1l.7 2.8l.7-2.3l.7 2.6l.7-2.6l.7 2.3l.7-3.1l.7 3.5l.7-2.5l.7 2.6l.7-2.3l.7 2.2l.7-2.3l.7 2.3l.7-2.4l.7 1.8l.7-3l.7 3.6l.7-2.2l.7 .9l.7-2.5l.7 3.8l.7-4.8l.7 5l.7-3.6l.7 3l.7-1.3l.7 1.3l.7-2.4l.7 2.7l.7-3.5l.7 3.2l.7-1.3l.7 1.4l.7-3.1l.7 3.6l.7-4.3l.7 3.6l.7-1.1l.7 1.2l.7-9.5l.7 10.1l.7-3.6l.7 3.4l.7-3.5l.7 2.1l.7-1l.7 1.9l.7-2.1l.7 2.7l.7-3.2l.7 3.2l.7-1.9l.7 1.9l.7-3.8l.7 3.4l.7-1.7l.7 1.6l.7-1.7l.7 1.6l.7-1.5l.7 1.2l.7-2.2l.7 3.2l.7-2.8l.7 2.3l.7-1.7l.7 2.2l.7-1.9l.7 1.3l.7-2.2l.7 2.8l.7-3l.7 2.5l.7-3.3l.7 3.7l.7-3.6l.7 3.8l.7-2.9l.7 2.4l.7-2l.7 2.2l.7-2.8l.7 2.6l.7-2.6l.7 1.2l.7-.4l.7 2l.7-2l.7 1.9l.7-2.7l.7 2.3l.7-1.9l.7 2l.7-2.6l.7 2.6l.7-1.3l.7 1.9l.7-2.6l.7 2.5l.7-2.6l.7 2.7l.7-3.1l.7 2.6l.7-1.9l.7 2.4l.7-2.2l.7 1.7l.7-2.5l.7 2.5l.7-1.9l.7 1.9l.7-2.7l.7 2.8l.7-1.8l.7 2l.7-1.6l.7 1.6l.7-1.3l.7 1.3l.7-3l.7 3.2l.7-1.7l.7 1.6l.7-1.8l.7 1.4l.7-2.1l.7 .9l.7-.2l.7 1.7l.7-3.3l.7 3.1l.7-1.3l.7 1.6l.7-1.6l.7 1.2l.7-1.5l.7 1.7l.7-1.6l.7 1.2l.7-2.7l.7 2.6l.7-2.8l.7 3.6l.7-3.9l.7 3.4l.7-1.4l.7 1.7l.7-1.6l.7 1.4l.7-1.8l.7 2l.7-1.8l.7 1.5l.7-3.3l.7 3l.7-3.8l.7 4l.7-2.5l.7 .9l.7-1.4l.7 3l.7-1.6l.7 1.8l.7-2.1l.7 1.9l.7-2.8l.7 3.2l.7-2.8l.7 2.8l.7-3.2l.7 3.4l.7-2.3l.7 1.8l.7-5.1l.7 5l.7-4.8l.7 5.3l.7-4.3l.7 4.1l.7-3l.7 2.8l.7-3.7l.7 4.3l.7-4.2l.7 3.5l.7-3.8l.7 3.6l.7-2.2l.7 2.6l.7-4.1l.7 4.4l.7-3l.7 2.6l.7-4.2l.7 3.7l.7-2.5l.7 3.3l.7-6.7l.7 6.3l.7-3.8l.7 4.1l.7-5.8l.7 3.1l.7-4.2l.7 6.1l.7-5l.7 5.8l.7-3.6l.7 4l.7-3.3l.7 2.9l.7-5.4l.7 5.6l.7-3.2l.7 0l.7-.4l.7 3.5l.7-5.1l.7 4.1l.7-4.7l.7 4.6l.7-4.8l.7 5.1l.7-4.8l.7 5.2l.7-4l.7 4.3l.7-3.7l.7 3.9l.7-3.1l.7 2.1l.7-5l.7 6l.7-5.8l.7 5.5l.7-2.1l.7 2.2l.7-3.9l.7 4l.7-6.1l.7 5.8l.7-4.8l.7 2.8l.7-3.5l.7 5.8l.7-4.5l.7 3.6l.7-4.5l.7 5.3l.7-5.8l.7 6l.7-7.6l.7 7.2l.7-6l.7 6.2l.7-6.3l.7 6.1l.7-8.8l.7 8.1l.7-3.3l.7 4.1l.7-4.9l.7 4.9l.7-7.2l.7 7.6l.7-7.6l.7 7.5l.7-6.1l.7 5.1l.7-7.5l.7 7.7l.7-6.5l.7 5.6l.7-3.1l.7 4.9l.7-4.5l.7 3.2l.7-5.9l.7 7.1l.7-7.9l.7 6.5l.7-3.1l.7 4.7l.7-6.2l.7 6.1l.7-10l.7 9.3l.7-4.1l.7 4.2l.7-6.9l.7 6.2l.7-3.4l.7 4.7l.7-7l.7 5.7l.7-3.4l.7 4.3l.7-5.4l.7 5l.7-7.5l.7 8.3l.7-8.1l.7 6.9l.7-2.3l.7 3.1l.7-5.1l.7 2.8l.7-3.6l.7 6.4l.7-5.2l.7 4.2l.7-5.1l.7 5l.7-5.1l.7 4.8l.7-6.1l.7 6.2l.7-2.1l.7 2.8l.7-4.6l.7 3.6l.7-4.7l.7 4.7l.7-3.5l.7 4.5l.7-7.5l.7 6.6l.7-4l.7 5l.7-2.8l.7 2.7l.7-2.9l.7 2.2l.7-4.3l.7 5.5l.7-7.9l.7 5.9l.7-4.5l.7 5.8l.7-3.1l.7 3.1l.7-4.6l.7 4.7l.7-3.6l.7 3.8l.7-6.2l.7 5.9l.7-2.9l.7 2.8l.7-7.1l.7 7.3l.7-4.3l.7 4.9l.7-4.6l.7 4.6l.7-7.2l.7 7.2l.7-4.8l.7 4.2l.7-8.2l.7 8.1l.7-6.7l.7 6.8l.7-5.2l.7 5l.7-6.4l.7 6.6l.7-3.8l.7 4l.7-5.8l.7 .3l.7 .8l.7 3.6l.7-7.3l.7 8.8l.7-5.7l.7 5.8l.7-5.1l.7 5l.7-9.4l.7 8.3l.7-10.7l.7 10.2l.7-9.3l.7 10.1l.7-5.1l.7 4.1l.7-8.8l.7 10.6l.7-4.5l.7 3.5l.7-4.2l.7 4l.7-22l.7 22.4l.7-7.2l.7 7.8l.7-11.6l.7 11.5l.7-11l.7 10.4l.7-4.1l.7 3l.7-5.1l.7 6.2l.7-12.4l.7 11.3l.7-10.4l.7 11.1l.7-6.9l.7 7.8l.7-5.2l.7 4.3l.7-9.5l.7 9.1l.7-9.9l.7 10.1l.7-10.8l.7 11.8l.7-9.4l.7 8.6l.7-5.2l.7 6.4l.7-9.8l.7 9.9l.7-9l.7 7.2l.7-5.9l.7 6.9l.7-5.8l.7 5.2l.7-6.9l.7 8.3l.7-5l.7 4.7l.7-6.3l.7 5.9l.7-9.7l.7 6.4l.7 .1l.7 2.8l.7-2.8l.7 3l.7-2.2l.7 2.5l.7-7l.7 6.5l.7-2.7l.7 3.6l.7-5.2l.7 4.9l.7-3.6l.7 4.1l.7-4.8l.7 3.2l.7-2.4l.7 2.7l.7-4.8l.7 4.8l.7-4.1l.7 3.8l.7-3.9l.7 4.9l.7-10l.7 9.7l.7-5l.7 4.1l.7-10.3l.7 11.1l.7-8.3l.7 7.7l.7-11l.7 10.4l.7-7.5l.7 9.7l.7-12.4l.7 11.7l.7-5.1l.7 3.4l.7-4.7l.7 6.1l.7-8.4l.7 9l.7-16.6l.7 14.8l.7-9.2l.7 10.9l.7-7.9l.7 6.5l.7-6.2l.7 6l.7-8.4l.7 9.8l.7-8.8l.7 9.2l.7-13.5l.7 11.3l.7-4.6l.7 5l.7-10.1l.7 11.5l.7-7.6l.7 6l.7-9.9l.7 7.6l.7-6l.7 5.8l.7-34.7l.7 37.2l.7-13.7l.7 14l.7-19.5l.7 19.7l.7-18l.7 18.9l.7-34.5l.7 34.4l.7-17.2l.7 17.1l.7-6.5l.7 5.4l.7-10.3l.7 11.3l.7-7.3l.7 6.4l.7-5.6l.7 7.6l.7-6.9l.7 1l.7-2l.7 7.2l.7-5.9l.7 5.7l.7-5.7l.7 6.3l.7-5.7l.7 4.1l.7-5.5l.7 6.4l.7-5.1l.7 5.3l.7-11.9l.7 12.2l.7-13.4l.7 11.6l.7-4.1l.7 5.8l.7-9.8l.7 9.1l.7-6l.7 7l.7-12.4l.7 10.5l.7-8.4l.7 7.8l.7-9.7l.7 11.1l.7-8.9l.7 4.9l.7-2l.7 6.7l.7-8.7l.7 8.8l.7-12.1l.7 12.6l.7-8.8l.7 6.7l.7-6.6l.7 7.1l.7-9.5l.7 9.2l.7-5.5l.7 .2l.7-7l.7 13.7l.7-7.5l.7 5.4l.7-7l.7 8.8l.7-14.3l.7 14.1l.7-7.3l.7 6.7l.7-7.1l.7 7l.7-4.1l.7 5.1l.7-5l.7 3.8l.7-12l.7 13.7l.7-8l.7 6.7l.7-10.3l.7 11.6l.7-5.1l.7 4l.7-9.3l.7 8.6l.7-7l.7 8.4l.7-6.7l.7 5.4l.7-4.7l.7 5.7l.7-9.6l.7 9.7l.7-4.7l.7 4l.7-4.8l.7 6.3l.7-11.4l.7 9l.7-8.2l.7 8.4l.7-24.9l.7 26.2l.7-4.9l.7 5.9l.7-6.7l.7 5.9l.7-11.8l.7 12.1l.7-7.8l.7 7.6l.7-6.5l.7 6.4l.7-14.3l.7 14.3l.7-11.9l.7 10.5l.7-11.7l.7 13.3l.7-13.2l.7 13.2l.7-7.8l.7 5.2l.7-16l.7 17.3l.7-12.1l.7 13.4l.7-11.3l.7 8.7l.7-17.8l.7 18.9l.7-16.9l.7 16.6l.7-9.3l.7 9.7l.7-7.4l.7 6.2l.7-8.9l.7 9.3l.7-9.8l.7 11.8l.7-8.6l.7 7.6l.7-8.4l.7 9l.7-14.4l.7 12.7l.7-9.7l.7 10.2l.7-7.1l.7 8.4l.7-12.8l.7 12.7l.7-8.7l.7 8.3l.7-11.4l.7 11.5l.7-8.6l.7 8l.7-10.5l.7 11.3l.7-7.7l.7 7.9l.7-9.8l.7 10l.7-3.3l.7 2.5l.7-3.5l.7 4.2l.7-6.2l.7 5.7l.7-8.7l.7 9l.7-9.1l.7 9.3l.7-11.8l.7 12.2l.7-7.8l.7 6.3l.7-9.8l.7 9.9l.7-9.5l.7 9.6l.7-4.6l.7 6.1l.7-8.4l.7 6.9l.7-10.3l.7 11l.7-11.9l.7 11.5l.7-16.9l.7 17.9l.7-19.5l.7 19.9l.7-38.4l.7 38l.7-22.9l.7 22.7l.7-16l.7 16.1l.7-30.6l.7 28.8l.7-21l.7 23.4l.7-11.1l.7 10.9l.7-9.2l.7 8.2l.7-13.6l.7 14.7l.7-15.3l.7 11.8l.7-9.8l.7 11.8l.7-12.1l.7 12.2l.7-13.2l.7 12l.7-6.8l.7 7.7l.7-7.2l.7 6.6l.7-9l.7 9.8l.7-5.8l.7 1.9l.7-2.1l.7 7.4l.7-9l.7 7.6l.7-15.5l.7 14.9l.7-11l.7 12.1l.7-6.2l.7 7.6l.7-12.5l.7 12.1l.7-6.9l.7 6.7l.7-12.4l.7 11.5l.7-6l.7 5.4l.7-13l.7 14.6l.7-10.9l.7 9.4l.7-10.6l.7 10.9l.7-13.5l.7 13.5l.7-13.9l.7 14.8l.7-10.7l.7 6.3l.7-7.2l.7 11.8l.7-15.3l.7 14.7l.7-13.4l.7 14.3l.7-16.1l.7 14.1l.7-13.3l.7 13.6l.7-12.2l.7 12.6l.7-12.3l.7 11.5l.7-11.8l.7 14l.7-11.5l.7 10.9l.7-6.9l.7 5.8l.7-5.5l.7 .3l.7-5.7l.7 9.5l.7-8.9l.7 12l.7-10.9l.7 8.9l.7-6.8l.7 7.3l.7-11.3l.7 12.7l.7-15.1l.7 13l.7-9.2l.7 9.8l.7-7.6l.7 6.5l.7-6.7l.7 1.8l.7-8.3l.7 16l.7-8.3l.7 7.3l.7-10.7l.7 9.5l.7-9.2l.7 7.6l.7-6.4l.7 8.6l.7-18.7l.7 16.7l.7-12.8l.7 15.6l.7-17.9l.7 16.6l.7-19.5l.7 20.6l.7-11l.7 8.4l.7-21.2l.7 21.6l.7-10.7l.7 9.2l.7-18.3l.7 19.9l.7-15.4l.7 13.5l.7-17.5l.7 19.2l.7-23l.7 23.8l.7-10.4l.7 9.7l.7-11.5l.7 14.1l.7-9.2l.7 6.1l.7-17.8l.7 20.9l.7-12.5l.7 11.1l.7-14.2l.7 7.5l.7-3l.7 10.8l.7-22.3l.7 22.2l.7-9.6l.7 9.6l.7-17.3l.7 9l.7 .2l.7 5.9l.7-6.7l.7 7.8l.7-9.4l.7 10.1l.7-20l.7 19.2l.7-11.5l.7 12.1l.7-11.4l.7 10.6l.7-11.3l.7 13.7l.7-10.4l.7 6.7l.7-4.9l.7 8.5l.7-10.6l.7 8l.7-9.8l.7 10l.7-5.1l.7 7l.7-11.7l.7 10.5l.7-13l.7 14.1l.7-15.5l.7 16.2l.7-11.7l.7 10.9l.7-8.5l.7 7.3l.7-4.9l.7 5l.7-6.8l.7 6.7l.7-8.9l.7 10.8l.7-11l.7 8.9l.7-11.8l.7 13.3l.7-9.5l.7 10.3l.7-9.9l.7 8l.7-9.3l.7 8.2l.7-4.3l.7 1.4l.7-7.7l.7 10.5l.7-6.8l.7 9.8l.7-12.9l.7 9.8l.7-5.8l.7 8.3l.7-13.8l.7 11.6l.7-11.2l.7 12.3l.7-9.5l.7 10.5l.7-13.9l.7 10.8l.7-5.8l.7 8.4l.7-13.7l.7 13.7l.7-12.4l.7 12.7l.7-22.3l.7 18.8l.7-19.8l.7 21.6l.7-9.2l.7 8.8l.7-10.1l.7 11.9l.7-11.6l.7 9.4l.7-10.5l.7 10.2l.7-25.1l.7 27.3l.7-13.4l.7 11l.7-10l.7 9.5l.7-15.1l.7 18.5l.7-27.9l.7 27.2l.7-21.2l.7 20.1l.7-13.8l.7 12.6l.7-8.7l.7 12.4l.7-9.7l.7 7l.7-9.9l.7 9.4l.7-5.6l.7 7.4l.7-16l.7 15.1l.7-7.2l.7 6.4l.7-7.5l.7 8.1l.7-13l.7 13.1l.7-8.4l.7 10.4l.7-10l.7 5.6l.7-4.9l.7 7.4l.7-5.9l.7 5.5l.7-6.2l.7 9.1l.7-8.7l.7 7.6l.7-6.4l.7 5.6l.7-10.2l.7 10.2l.7-10.8l.7 11.5l.7-8.1l.7 6.9l.7-12.2l.7 12.6l.7-18.8l.7 20.8l.7-14.6l.7 12.2l.7-12.3l.7 14.5l.7-10.1l.7 8.6l.7-9.9l.7 9.6l.7-19.4l.7 19.6l.7-13.2l.7 14.6l.7-15.6l.7 12.3l.7-8.5l.7 7.6l.7-8.5l.7 10.4l.7-10.1l.7 12.1l.7-17l.7 15.7l.7-20.6l.7 20l.7-9.4l.7 9.1l.7-16.7l.7 16.7l.7-10.8l.7 10l.7-8.4l.7 10.5l.7-20.7l.7 19.9l.7-21l.7 19.5l.7-15.7l.7 16.4l.7-6.8l.7 6l.7-8l.7 11.7l.7-14.7l.7 8.1l.7-8.3l.7 14.7l.7-20l.7 19.7l.7-17.8l.7 18.3l.7-21.6l.7 21.3l.7-9.1l.7 6.5l.7-15.5l.7 4.5l.7-6.6l.7 20.7l.7-20.3l.7 19.8l.7-20.9l.7 21.6l.7-9.2l.7 6l.7-9.7l.7 9l.7-7.6l.7 9l.7-14l.7 12l.7-11.5l.7 15.2l.7-22.4l.7 18.7l.7-11l.7 12.9l.7-10.4l.7 11.3l.7-12.1l.7 9.8l.7-18l.7 17.1l.7-21.8l.7 21.6l.7-21.3l.7 21.7l.7-16.1l.7 19.7l.7-31.5l.7 31.8l.7-16.3l.7 11.6l.7-10.7l.7 11.6l.7-18.8l.7 17.3l.7-27.9l.7 33.2l.7-29.5l.7 26.4l.7-27.4l.7 29.7l.7-26.2l.7 25.4l.7-16.3l.7 11.8l.7-25.5l.7 29.6l.7-20.9l.7 20.9l.7-17.8l.7 16.4l.7-16.4l.7 15.9l.7-12.7l.7 17.4l.7-25.8l.7 22.1l.7-37.6l.7 40.2l.7-21.5l.7 14.5l.7-12.9l.7 12.3l.7-22.3l.7 26.2l.7-31l.7 33l.7-32l.7 16.6l.7-.2l.7 15.7l.7-41l.7 43.3l.7-38.3l.7 34.6l.7-43.9l.7 42.4l.7-43.2l.7 46.8l.7-32.9l.7 19.9l.7-16.4l.7 27.5l.7-23.6l.7 19.6l.7-29.8l.7 31.3l.7-44.2l.7 41l.7-60.9l.7 60.6l.7-30l.7 30.6l.7-76.1l.7 71l.7-48.9l.7 50.5l.7-58.7l.7 63.1l.7-81.3l.7 85.5l.7-73.8l.7 62.4l.7-37.4l.7 49.5l.7-60.9l.7 46.6l.7-31.4l.7 45.4l.7-95.2l.7 97.9l.7-95.5l.7 93.3l.7-38l.7 25.8l.7-48.1l.7 60.2l.7-94.8l.7 81.7l.7-70.8l.7 71.4l.7-88.3l.7 96.7l.7-42l.7 44.6l.7-59.5l.7 53.1l.7-110.5l.7 121l.7-75.1l.7 55.3l.7-43.9l.7 52.4l.7-64l.7 62.9l.7-91.8l.7 103.4l.7-35.1l.7 30.1l.7-44.7l.7 41.3l.7-67l.7 64.8l.7-63.3l.7 62.5l.7-69.4l.7 76.2l.7-25.8l.7 18.9l.7-17.9l.7 11.4l.7-20.9l.7 37.9l.7-58.5l.7 50.7l.7-90.4l.7 96.8l.7-33.3l.7 28.5l.7-95.7l.7 88.4l.7-97.5l.7 105.5l.7-96.2l.7 62.9l.7-132.1l.7 167.6l.7-130.4l.7 129.6l.7-62.8l.7 55.4l.7-30.9l.7 40.3l.7-47.6l.7 42l.7-77.3l.7 87.6l.7-106.5l.7 88.3l.7-45.1l.7 53.6l.7-61.9l.7 62.5l.7-62l.7 55.1l.7-135l.7 141.1l.7-43.7l.7 45l.7-52.4l.7 56.9l.7-148.7l.7 149.7l.7-77.4l.7 66l.7-135.1l.7 143.8l.7-162.9l.7 157.3l.7-101.3l.7 90.3l.7-54.6l.7 53.6l.7-111.8l.7 119.2l.7-107.3l.7 119.8l.7-119.7l.7 104.4l.7-162.1l.7 171l.7-78.5l.7 75.7l.7-145.2l.7 139l.7-113l.7 130.9l.7-180.7l.7 93.8l.7-87.3l.7 169.5l.7-93.3l.7 74.1l.7-222.8l.7 235.3l.7-67.2l.7 77.1l.7-161.2l.7 159.6l.7-117.5l.7 103.4l.7-107.6l.7 124.7l.7-198.3l.7 185.7l.7-77.1l.7 71.7l.7-254.8l.7 270.4l.7-135.3l.7 129.1l.7-103.9l.7 109.1l.7-97.6l.7 87.8l.7-237.5l.7 172.2l.7-65.6l.7 132.5l.7-84.4l.7 91.6l.7-102.2l.7 96.1l.7-107.1l.7 107.1l.7-119.7l.7 121.6l.7-98.8l.7 90.4l.7-81.6l.7 74.3l.7-94.8l.7 111.4l.7-74.6l.7 72.6l.7-113l.7 118.4l.7-154.8l.7 146.2l.7-117l.7 107.7l.7-48.8l.7 57.7l.7-159.5l.7 173.1l.7-132.1l.7 116.2l.7-73.1l.7 70.6l.7-210.6l.7 210.2l.7-64.8l.7 60.5l.7-126.9l.7 128.6l.7-96.7l.7 70.4l.7-18.9l.7 65.5l.7-58.4l.7 48.6l.7-88.7l.7 81l.7-111.4l.7 114.6l.7-96.2l.7 87.7l.7-55.6l.7 79.8l.7-106.9l.7 81.3l.7-98.4l.7 105.4l.7-169.5l.7 171.3l.7-139.8l.7 155l.7-175.5l.7 148.4l.7-93.2l.7 111.8l.7-131l.7 125.7l.7-132.7l.7 130.4l.7-180.5l.7 195.5l.7-113.7l.7 92.9l.7-172.4l.7 194.1l.7-178.4l.7 168.5l.7-68.3l.7 62.9l.7-134.2l.7 150.6l.7-183.2l.7 178.9l.7-90.3l.7 72.4l.7-107.1l.7 72.1l.7-49.6l.7 87l.7-113.8l.7 119l.7-160.7l.7 158.1l.7-134.8l.7 97.8l.7-15.7l.7 66.6l.7-76l.7 77.6l.7-69.1l.7 59.3l.7-138.6l.7 141.3l.7-85l.7 75.2l.7-69l.7 72.7l.7-200.2l.7 190.4l.7-72.3l.7 85.5l.7-87.9l.7 93.5l.7-159.2l.7 137.3l.7-139.4l.7 147.3l.7-261.2l.7 261.7l.7-259.1l.7 268.5l.7-83.7l.7 31.9l.7-95.6l.7 156.4l.7-227.9l.7 204.6l.7-110.8l.7 134l.7-108.2l.7 97.7l.7-100.7l.7 91.5l.7-287l.7 285.6l.7-121.3l.7 137.4l.7-89.8l.7 96.7l.7-89.8l.7 74.3l.7-138.8l.7 144.6l.7-74.5l.7 61.3l.7-192.2l.7 194.1l.7-51.3l.7 66.3l.7-190.1l.7 196.3l.7-58.8l.7 7.8l.7-125l.7 169.8l.7-106.3l.7 97.8l.7-36.8l.7 37l.7-81.4l.7 95.9l.7-60.9l.7 53.7l.7-344l.7 348.3l.7-244.7l.7 238.8l.7-253.2l.7 187.4l.7-173.1l.7 247.9l.7-309.7l.7 305.6l.7-142.9l.7 122.3l.7-163.6l.7 185.6l.7-70.3l.7 55.5l.7-80.9l.7 95.4l.7-104l.7 92.2l.7-52.8l.7 49.4l.7-65.7l.7 59l.7-260.6l.7 284l.7-291.3l.7 265.5l.7-66l.7 65.4l.7-125.8l.7 136.1l.7-73l.7 70.3l.7-42.1l.7 42.1l.7-184.9l.7 187.8l.7-158.1l.7 153.5l.7-301.9l.7 285.8l.7-108.8l.7 118.7l.7-88.6l.7 106.2l.7-225.6l.7 218.4l.7-43.4l.7 53.4l.7-299.9l.7 305.4l.7-203.9l.7 192.5l.7-334.5l.7 332.3l.7-148.2l.7 155.1l.7-222.3l.7 219.7l.7-195.5l.7 179.8l.7-67l.7 83.3l.7-76.3l.7 63.6l.7-100.5l.7 111.4l.7-271.4l.7 278.6l.7-323.8l.7 303l.7-125.9l.7 135.1l.7-163.1l.7 175.2l.7-332.4l.7 327.4l.7-64.6l.7 51.4l.7-37.9l.7 59.2l.7-227l.7 223.9l.7-63.4l.7 25.4l.7-179.3l.7 195.3l.7-189.7l.7 192.4l.7-409.5l.7 425.2l.7-257.8l.7 247.5l.7-325.2l.7 316.8l.7-219.6l.7 221.1l.7-146.2l.7 149.2l.7-77.7l.7 100.5l.7-144.9l.7 67.7l.7-160.7l.7 222l.7-118.8l.7 125.6l.7-365.1l.7 356.9l.7-74.7l.7 78.1l.7-227.3l.7 227.5l.7-219.6l.7 232l.7-385.1l.7 376.8l.7-242.6l.7 232.2l.7-176l.7 187.8l.7-334l.7 339.9l.7-283.3l.7 270.4l.7-345.7l.7 335.1l.7-202.5l.7 205.1l.7-169l.7 181.3l.7-316l.7 303.9l.7-327.6l.7 349.7l.7-105.1l.7 83.4l.7-240.9l.7 252.1l.7-180.9l.7 172.4l.7-164.5l.7 163.7l.7-110.5l.7 122.8l.7-273l.7 255.7l.7-344.4l.7 356.7l.7-165.9l.7 176.2l.7-257.1l.7 234.9l.7-200.3l.7 152.2l.7-462.2l.7 528.8l.7-191.6l.7 174.5l.7-254.5l.7 263.3l.7-177.7l.7 186.6l.7-123.8l.7 129.6l.7-237.5l.7 235.5l.7-104.7l.7 78.7l.7-96.5l.7 102.4l.7-343.5l.7 357.6l.7-106.9l.7 91.6l.7-199.7l.7 208.7l.7-86.4l.7 76.3l.7-237.8l.7 257.9l.7-165.2l.7 148.8l.7-106.2l.7 105.7l.7-154.6l.7 157.7l.7-103.3l.7 101.3l.7-248l.7 250.1l.7-136.4l.7 141.7l.7-353.9l.7 360.7l.7-234l.7 235.4l.7-362.5l.7 361.7l.7-388.9l.7 372.8l.7-162.5l.7 178.9l.7-91.8l.7 36.2l.7-280.5l.7 314.2l.7-47.6l.7 65.5l.7-65.3l.7 52.2l.7-238.3l.7 244.1l.7-333l.7 346.1l.7-166l.7 147.2l.7-146.6l.7 77.5l.7-93.2l.7 179.8l.7-350.6l.7 348l.7-79.5l.7 80.5l.7-322.7l.7 313.2l.7-174.6l.7 170.4l.7-83l.7 74.4l.7-182.7l.7 189.7l.7-173.9l.7 190l.7-129.9l.7 128l.7-97.8l.7 91.3l.7-87.2l.7 52.8l.7-177.1l.7 217.1l.7-365.7l.7 360.6l.7-147.4l.7 155.2l.7-249.5l.7 243.6l.7-121.2l.7 128.2l.7-273.8l.7 277.3l.7-284.1l.7 276.4l.7-346.8l.7 340.2l.7-369.3l.7 365.2l.7-151.7l.7 65.4l.7-178.1l.7 279.1l.7-299.7l.7 282.1l.7-279.8l.7 289.1l.7-78.9l.7 67.1l.7-131l.7 129.9l.7-56l.7 55.8l.7-136.8l.7 147.7l.7-66.7l.7 78l.7-338.9l.7 323.8l.7-342.7l.7 336.2l.7-75.5l.7 101.3l.7-232.4l.7 229l.7-237.5l.7 223.4l.7-45.4l.7 48.1l.7-140.3l.7 131l.7-350.2l.7 348.4l.7-147.9l.7 160.5l.7-210.8l.7 217.6l.7-147.2l.7 133.3l.7-137.9l.7 153.8l.7-52.1l.7 44.6l.7-349.4l.7 349.8l.7-54l.7 48.3l.7-53.5l.7 56.2l.7-164.4l.7 169.9l.7-62.7l.7 50.6l.7-118l.7 135.7l.7-88.3l.7 81.6l.7-69.6l.7 68.6l.7-328.7l.7 322.3l.7-122.5l.7 134.3l.7-285.7l.7 282.2l.7-210.3l.7 208.2l.7-69.8l.7 77.6l.7-346.2l.7 333.2l.7-165.7l.7 176.2l.7-70.6l.7 67.1l.7-66.5l.7 74.3l.7-217.7l.7 198.1l.7-66.9l.7 68.6l.7-321.9l.7 331.1l.7-67.4l.7 49l.7-302.8l.7 305.6l.7-297.2l.7 299.6l.7-160.7l.7 173.2l.7-66.4l.7 66.6l.7-210.5l.7 212.2l.7-98.3l.7 97.1l.7-295.3l.7 277.4l.7-59.9l.7 84.3l.7-179.3l.7 170.8l.7-103.7l.7 104.8l.7-135.8l.7 118.3l.7-40.7l.7 59.4l.7-152.9l.7 146.9l.7-211.8l.7 208.9l.7-306.2l.7 301l.7-154.7l.7 153.4l.7-121.5l.7 133l.7-147.7l.7 151.1l.7-55.9l.7 54l.7-62l.7 51.7l.7-232.9l.7 232.1l.7-113.4l.7 128.7l.7-337.8l.7 327.8l.7-60.5l.7 78.5l.7-148.8l.7 123.7l.7-81.3l.7 86.2l.7-424.7l.7 418.7l.7-63.1l.7 80l.7-58.8l.7 50l.7-65.1l.7 80.5l.7-143.8l.7 137.6l.7-340.5l.7 349l.7-126.7l.7 110.6l.7-154.8l.7 169.2l.7-204.9l.7 195.5l.7-94.6l.7 85.7l.7-53.3l.7 54.6l.7-82.8l.7 85l.7-186.1l.7 181.6l.7-47l.7 56.6l.7-201.8l.7 211.9l.7-354.2l.7 340.6l.7-84.2l.7 90.3l.7-62.5l.7 49.9l.7-126l.7 129.2l.7-203.6l.7 215.8l.7-70.9l.7 65.7l.7-52l.7 53l.7-228.2l.7 230.8l.7-272l.7 215l.7-64.5l.7 124.4l.7-148l.7 125.6l.7-136.7l.7 136.7l.7-51.1l.7 60.6l.7-355.9l.7 349l.7-177.6l.7 179.5l.7-33.3l.7 50.8l.7-47.9l.7 49l.7-237.4l.7 231.2l.7-273.5l.7 268.7l.7-131l.7 124.5l.7-106.8l.7 109.7l.7-85.4l.7 92.5l.7-41.4l.7 38.2l.7-256.7l.7 269.6l.7-95.7l.7 82.3l.7-91.9l.7 104.6l.7-86l.7 88.4l.7-132.9l.7 121.5l.7-112.6l.7 109.3l.7-56.6l.7 46.6l.7-82.7l.7 86.5l.7-92.7l.7 107.4l.7-84.8l.7 70.6l.7-93.8l.7 102l.7-50.5l.7 57.1l.7-276.3l.7 255.7l.7-106.8l.7 113.8l.7-71.9l.7 90.9l.7-299.8l.7 294l.7-117.1l.7 118.4l.7-67.2l.7 45.9l.7-224.9l.7 240.2l.7-53.2l.7 49.6l.7-129.5l.7 143.8l.7-98.8l.7 81.3l.7-49l.7 62.7l.7-55.5l.7 40.4l.7-120.8l.7 121.8l.7-286.9l.7 297.8l.7-72.7l.7 71.8l.7-78.8l.7 84l.7-77.2l.7 67.5l.7-78.1l.7 74.7l.7-195.1l.7 189.7l.7-49.6l.7 61.4l.7-77.5l.7 75.7l.7-156.2l.7 155.6l.7-34.1l.7 36l.7-113.2l.7 110.2l.7-44.5l.7 43.6l.7-91.3l.7 100.9l.7-64.3l.7 53.4l.7-162.2l.7 174.9l.7-74.6l.7 59.3l.7-168.6l.7 185.2l.7-47.4l.7 45.6l.7-100.9l.7 74.2l.7-89.7l.7 112.4l.7-115.4l.7 114.6l.7-77.3l.7 57.7l.7-218.2l.7 189.3l.7-215.1l.7 254.5l.7-51.3l.7 54.8l.7-156.8l.7 157.9l.7-90.6l.7 90.4l.7-71.4l.7 79.5l.7-166.5l.7 166.4l.7-153.1l.7 156.8l.7-84.2l.7 68.7l.7-59.3l.7 65.8l.7-116.6l.7 99.4l.7-184.9l.7 208.4l.7-88.8l.7 87.7l.7-83l.7 79.2l.7-116.1l.7 104.2l.7-184.9l.7 187.2l.7-250l.7 252.9l.7-45.7l.7 43.6l.7-217.5l.7 213.5l.7-63.6l.7 81.3l.7-96.7l.7 91.8l.7-118.6l.7 127.1l.7-170.1l.7 153.9l.7-48.7l.7 58.8l.7-69.5l.7 49.9l.7-164.6l.7 178l.7-61.1l.7 47.9l.7-249.3l.7 262.3l.7-126l.7 59.8l.7 4.6l.7 65.7l.7-172.9l.7 181.5l.7-134.6l.7 133.8l.7-95.8l.7 88.1l.7-100.5l.7 80.7l.7-137.8l.7 154.5l.7-197.9l.7 205.7l.7-87.4l.7 18.5l.7-85.1l.7 134l.7-123.5l.7 139.3l.7-210.7l.7 147.5l.7-13.3l.7 70.7l.7-145.8l.7 135.2l.7-197.1l.7 214.7l.7-211.9l.7 200.8l.7-88l.7 88.9l.7-111.9l.7 126.5l.7-184.8l.7 159.1l.7-74.8l.7 94.2l.7-116.3l.7 109.3l.7-157.9l.7 155.7l.7-78.9l.7 95.4l.7-135.4l.7 129.7l.7-80.5l.7 66.7l.7-40.9l.7 51.8l.7-87.4l.7 83.2l.7-291.8l.7 305.1l.7-71.2l.7 48.2l.7-108.5l.7 110.7l.7-64.3l.7 72.5l.7-51l.7 24.7l.7-211.5l.7 229.6l.7-65.7l.7 71.2l.7-49.8l.7 57.9l.7-147.3l.7 140l.7-67.2l.7 72.4l.7-86.8l.7 84.1l.7-184.8l.7 192.8l.7-190.7l.7 179.5l.7-163.9l.7 165.6l.7-45.1l.7 27l.7-44.9l.7 73.1l.7-174l.7 165.2l.7-131l.7 132.5l.7-54.4l.7 65.6l.7-63.4l.7 62.3l.7-50.4l.7 41.5l.7-44.4l.7 48.5l.7-20.8l.7 21.8l.7-41.3l.7 39.9l.7-199.7l.7 197.1l.7-59.6l.7 38.7l.7-14.2l.7 43.4l.7-37.9l.7 32l.7-31.8l.7 38.3l.7-48.8l.7 28.3l.7-12.7l.7 29l.7-155.8l.7 158.3l.7-57.3l.7 53.5l.7-103.1l.7 101.8l.7-27.8l.7 33.6l.7-188.7l.7 182.3l.7-139.8l.7 142.2l.7-129.6l.7 134.4l.7-185.4l.7 162.6l.7-2l.7 15.6l.7-35.2l.7 34.6l.7-18.9l.7 28.5l.7-62.5l.7 53.6l.7-20l.7 21.9l.7-57l.7 61.4l.7-43.9l.7 40.5l.7-146.2l.7 153.5l.7-42.4l.7 40.2l.7-168l.7 168.1l.7-105.2l.7 103.5l.7-47.6l.7 48.1l.7-24l.7 21.8l.7-32.2l.7 29.2l.7-49.9l.7 50.7l.7-49.4l.7 53.7l.7-199.4l.7 200.3l.7-34.4l.7 31.1l.7-39.7l.7 36.1l.7-148.5l.7 154.5l.7-23.9l.7 21.9l.7-24.1l.7 28.9l.7-107.5l.7 102.7l.7-58.9l.7 57.9l.7-33.1l.7 34.7l.7-101.4l.7 105.6l.7-161.4l.7 156.4l.7-18l.7 19.9l.7-10.5l.7 10.3l.7-15.8l.7 17.6l.7-11.2l.7 9.5l.7-52.3l.7 55.6l.7-12.5l.7 10.9l.7-16.4l.7 14l.7-68.5l.7 70.3l.7-6.8l.7 6l.7-54.5l.7 54.1l.7-158.1l.7 161.5l.7-23.2l.7 20.9l.7-46.7l.7 48.8l.7-22.5l.7 23l.7-11.5l.7 10.2l.7-8.9l.7 10l.7-20.4l.7 17.9l.7-18.4l.7 17.8l.7-13.7l.7 6.9l.7-8.1l.7 16.8l.7-127.7l.7 128.9l.7-10.5l.7 .4l.7-7.2l.7 16.7l.7-18.9l.7 19.6l.7-9.8l.7 7.7l.7-14.1l.7 15.8l.7-9.9l.7 8.4l.7-11.9l.7 10.8l.7-5.7l.7 6.2l.7-32.6l.7 33.8l.7-19.1l.7 17.6l.7-12.8l.7 14.9l.7-26.3l.7 25.2l.7-14.5l.7 14.7l.7-5.9l.7 5.9l.7-10.8l.7 12.1l.7-13.1l.7 13.7l.7-28.9l.7 27.5l.7-15.6l.7 12.2l.7-2.9l.7 6.6l.7-12.4l.7 13.1l.7-13l.7 11.7l.7-8.9l.7 8.1l.7-4.6l.7 4.4l.7-5.6l.7 7.6l.7-16.5l.7 14.6l.7-17.3l.7 18.7l.7-13.2l.7 13l.7-6.7l.7 6.5l.7-6.7l.7 5.3l.7-15.2l.7 15.2l.7-13.4l.7 15.8l.7-7.6l.7 6.9l.7-13.8l.7 13.9l.7-12l.7 12.9l.7-13.5l.7 6.5l.7-7.1l.7 11.2l.7-11.6l.7 8.3l.7-4.5l.7 8.1l.7-15.4l.7 16l.7-8.2l.7 9.2l.7-17.6l.7 16.8l.7-6.1l.7 5.3l.7-8.2l.7 9.3l.7-10.7l.7 10.5l.7-6.4l.7 7.1l.7-13l.7 13.5l.7-6.6l.7 5l.7-5.3l.7 6l.7-6.5l.7 5.5l.7-14l.7 15.7l.7-8.5l.7 7.9l.7-6.4l.7 5.7l.7-11.9l.7 13.4l.7-8l.7 6.5l.7-9.3l.7 11.4l.7-6.1l.7 5.3l.7-12.7l.7 11.3l.7-6.3l.7 7.7l.7-15.7l.7 15.3l.7-8.1l.7 9.3l.7-12.4l.7 11.2l.7-5.9l.7 5.5l.7-9.4l.7 11.1l.7-6.9l.7 5.3l.7-5.3l.7 5.6l.7-4.4l.7 4.8l.7-9.7l.7 8.6l.7-7.5l.7 9.2l.7-11.2l.7 11.5l.7-46l.7 44.4l.7-37.8l.7 38.5l.7-22.2l.7 21.5l.7-8.9l.7 10.1l.7-9.9l.7 10.4l.7-6.3l.7 6.3l.7-7.5l.7 7.3l.7-8l.7 8l.7-9.3l.7 8.1l.7-2.9l.7 3.6l.7-6.4l.7 5.7l.7-3.6l.7 4.8l.7-8.4l.7 8.3l.7-5.9l.7 4.8l.7-6.6l.7 6.8l.7-6.5l.7 6.8l.7-8.4l.7 9.4l.7-4.6l.7 4.1l.7-6.9l.7 7.2l.7-4.7l.7 4.1l.7-6.6l.7 4.7l.7-1.9l.7 4.3l.7-3.9l.7 3l.7-4.3l.7 4.2l.7-4.1l.7 3.3l.7-5.2l.7 7l.7-3.5l.7 3.5l.7-3.5l.7 2.5l.7-1.6l.7 2.8l.7-4.9l.7 4.4l.7-3.7l.7 3.6l.7-2.6l.7 2.5l.7-3.2l.7 3.8l.7-5.3l.7 4.8l.7-2.7l.7 3l.7-27.8l.7 24.8l.7-13l.7 15.6l.7-2.7l.7 2.5l.7-5.1l.7 5.1l.7-4l.7 5l.7-4l.7 .1l.7-.6l.7 4.1l.7-7.2l.7 6.4l.7-5l.7 6.1l.7-4.6l.7 3.1l.7-7.3l.7 8l.7-5.8l.7 5.2l.7-3.6l.7 4.7l.7-8.4l.7 8.3l.7-5.1l.7 5.3l.7-7.4l.7 6.5l.7-6.6l.7 7.6l.7-5.2l.7 3.8l.7-3.1l.7 3.8l.7-6.8l.7 7.3l.7-6.3l.7 5.9l.7-6.2l.7 6.9l.7-5.9l.7 5.4l.7-8.5l.7 3.9l.7 .8l.7 3.6l.7-7.6l.7 6.6l.7-6.4l.7 7.7l.7-4.6l.7 4.4l.7-5.8l.7 6.3l.7-4l.7 2.7l.7-2.4l.7 3.5l.7-3.6l.7 3.4l.7-7.4l.7 7.9l.7-4.2l.7 3.3l.7-5.3l.7 5.7l.7-3l.7 3l.7-3.9l.7 3.6l.7-3.6l.7 3.9l.7-6.9l.7 7.1l.7-4.6l.7 4.7l.7-3l.7-.5l.7-1.1l.7 4.5l.7-3.7l.7 2l.7-2.6l.7 3.4l.7-3.4l.7 4l.7-3.6l.7 3.6l.7-4l.7 3.5l.7-2.8l.7 1.7l.7-1.7l.7 4l.7-5.8l.7 4.8l.7-5.5l.7 6.2l.7-5.7l.7 5.2l.7-3.4l.7 3l.7-3.1l.7 3.8l.7-2.9l.7 2.4l.7-3.9l.7 4.8l.7-6.6l.7 4l.7-4.2l.7 3.4l.7 .5l.7 1.7l.7-3.5l.7 3.8l.7-1.8l.7 2l.7-3.7l.7 3.8l.7-3.4l.7 .9l.7-.2l.7 3.4l.7-3.3l.7 2.6l.7-2l.7 2.3l.7-2.3l.7 1.8l.7-4.3l.7 4.7l.7-2.2l.7-.2l.7-1.7l.7 3.5l.7-4.4l.7 5l.7-3.9l.7 1.4l.7-.3l.7 3l.7-5.5l.7 5.6l.7-2.8l.7 2.4l.7-3.3l.7 1.8l.7-.3l.7 1.5l.7-2.3l.7 2.2l.7-1.8l.7 2.3l.7-3l.7 3.5l.7-6.1l.7 5.7l.7-5.6l.7 4.8l.7-4l.7 4.8l.7-4.3l.7 3.7l.7-4.7l.7 5.3l.7-2.7l.7 2l.7-3.7l.7 4.4l.7-4.5l.7 .8l.7-2l.7 4.9l.7-3.5l.7 1.4l.7-1.3l.7 4.2l.7-6l.7 5.4l.7-4l.7 4.9l.7-3l.7 2.7l.7-51.5l.7 51.1l.7-38.8l.7 38.7l.7-22.4l.7 23l.7-2.4l.7 0l.7-2.1l.7 3.4l.7-1.2l.7 2l.7-30.9l.7 30.8l.7-17.7" fill="none" stroke="#222" stroke-width="1.9" stroke-linejoin="round"/>
<path d="M1601.8 775.5V1180" stroke="#000" stroke-width="12" fill="none"/>
<path d="M1565.5 1177H1638.2L1601.8 1258Z" fill="#000"/>
<path id="hmm" d="M682.5 2055V2001H772.3V1893.5H845.5V1786H992.8V1678.5H1579.3V1786H1841.3V2055M1850.4 2055V2001H2151.6V1893.5H2159.2V1786H2169V2055M2323.2 2055V2001H2715.5" fill="none" stroke="#505050" stroke-width="12" stroke-linejoin="round"/>
<g id="text" font-family="&quot;Liberation Sans&quot;, sans-serif" fill="#000">
<text x="272" y="59" font-size="74" font-weight="bold" textLength="2317.6" lengthAdjust="spacingAndGlyphs">Hippocampal LFP of a typical seizure with spikes identified by dots.</text>
<text x="244.2" y="743" font-size="74" font-weight="bold" textLength="2490.5" lengthAdjust="spacingAndGlyphs">Head acceleration indicates point of generalization (rearing+myoclonus).</text>
<text x="265.1" y="1456" font-size="74" font-weight="bold" textLength="1724.8" lengthAdjust="spacingAndGlyphs">Seizure stage deduced by a hidden Markov model.</text>
<text x="260.5" y="205.5" font-size="61" text-anchor="end" textLength="32.2" lengthAdjust="spacingAndGlyphs">5</text>
<text x="260.5" y="346.1" font-size="61" text-anchor="end" textLength="32.2" lengthAdjust="spacingAndGlyphs">0</text>
<text x="260.5" y="486.8" font-size="61" text-anchor="end" textLength="51.5" lengthAdjust="spacingAndGlyphs">-5</text>
<text x="260.5" y="627.4" font-size="61" text-anchor="end" textLength="83.7" lengthAdjust="spacingAndGlyphs">-10</text>
<text x="260.5" y="877.4" font-size="61" text-anchor="end" textLength="80.6" lengthAdjust="spacingAndGlyphs">0.6</text>
<text x="260.5" y="1040.7" font-size="61" text-anchor="end" textLength="80.6" lengthAdjust="spacingAndGlyphs">0.4</text>
<text x="260.5" y="1204" font-size="61" text-anchor="end" textLength="80.6" lengthAdjust="spacingAndGlyphs">0.2</text>
<text x="260.5" y="1593.3" font-size="61" text-anchor="end" textLength="32.2" lengthAdjust="spacingAndGlyphs">5</text>
<text x="260.5" y="1700.8" font-size="61" text-anchor="end" textLength="32.2" lengthAdjust="spacingAndGlyphs">4</text>
<text x="260.5" y="1808.3" font-size="61" text-anchor="end" textLength="32.2" lengthAdjust="spacingAndGlyphs">3</text>
<text x="260.5" y="1915.8" font-size="61" text-anchor="end" textLength="32.2" lengthAdjust="spacingAndGlyphs">2</text>
<text x="260.5" y="2023.3" font-size="61" text-anchor="end" textLength="32.2" lengthAdjust="spacingAndGlyphs">1</text>
<text x="598.9" y="2127" font-size="61" text-anchor="middle" textLength="64.4" lengthAdjust="spacingAndGlyphs">10</text>
<text x="925.6" y="2127" font-size="61" text-anchor="middle" textLength="64.4" lengthAdjust="spacingAndGlyphs">20</text>
<text x="1252.3" y="2127" font-size="61" text-anchor="middle" textLength="64.4" lengthAdjust="spacingAndGlyphs">30</text>
<text x="1579" y="2127" font-size="61" text-anchor="middle" textLength="64.4" lengthAdjust="spacingAndGlyphs">40</text>
<text x="1905.7" y="2127" font-size="61" text-anchor="middle" textLength="64.4" lengthAdjust="spacingAndGlyphs">50</text>
<text x="2232.4" y="2127" font-size="61" text-anchor="middle" textLength="64.4" lengthAdjust="spacingAndGlyphs">60</text>
<text x="2559.1" y="2127" font-size="61" text-anchor="middle" textLength="64.4" lengthAdjust="spacingAndGlyphs">70</text>
<text x="1395" y="2195" font-size="70" textLength="205" lengthAdjust="spacingAndGlyphs">time, s</text>
<text x="399.5" y="555.6" font-size="38.8" textLength="62" lengthAdjust="spacingAndGlyphs">LFP</text>
<text x="400.5" y="601.3" font-size="38.8" textLength="106" lengthAdjust="spacingAndGlyphs">spikes</text>
<text x="138.7" y="632" font-size="74" textLength="503.5" lengthAdjust="spacingAndGlyphs" transform="rotate(-90 138.7 632)">LFP (Depth), mV</text>
<text x="59.7" y="1158.6" font-size="74" textLength="168.6" lengthAdjust="spacingAndGlyphs" transform="rotate(-90 59.7 1158.6)">Head</text>
<text x="142" y="1228.8" font-size="74" textLength="296.4" lengthAdjust="spacingAndGlyphs" transform="rotate(-90 142 1228.8)">Acceln., g</text>
<text x="110.6" y="1891" font-size="74" textLength="172.5" lengthAdjust="spacingAndGlyphs" transform="rotate(-90 110.6 1891)">HMM</text>
<text x="194.5" y="1861.7" font-size="74" textLength="161.2" lengthAdjust="spacingAndGlyphs" transform="rotate(-90 194.5 1861.7)">State</text>
</g>
</svg>
</body></html>
